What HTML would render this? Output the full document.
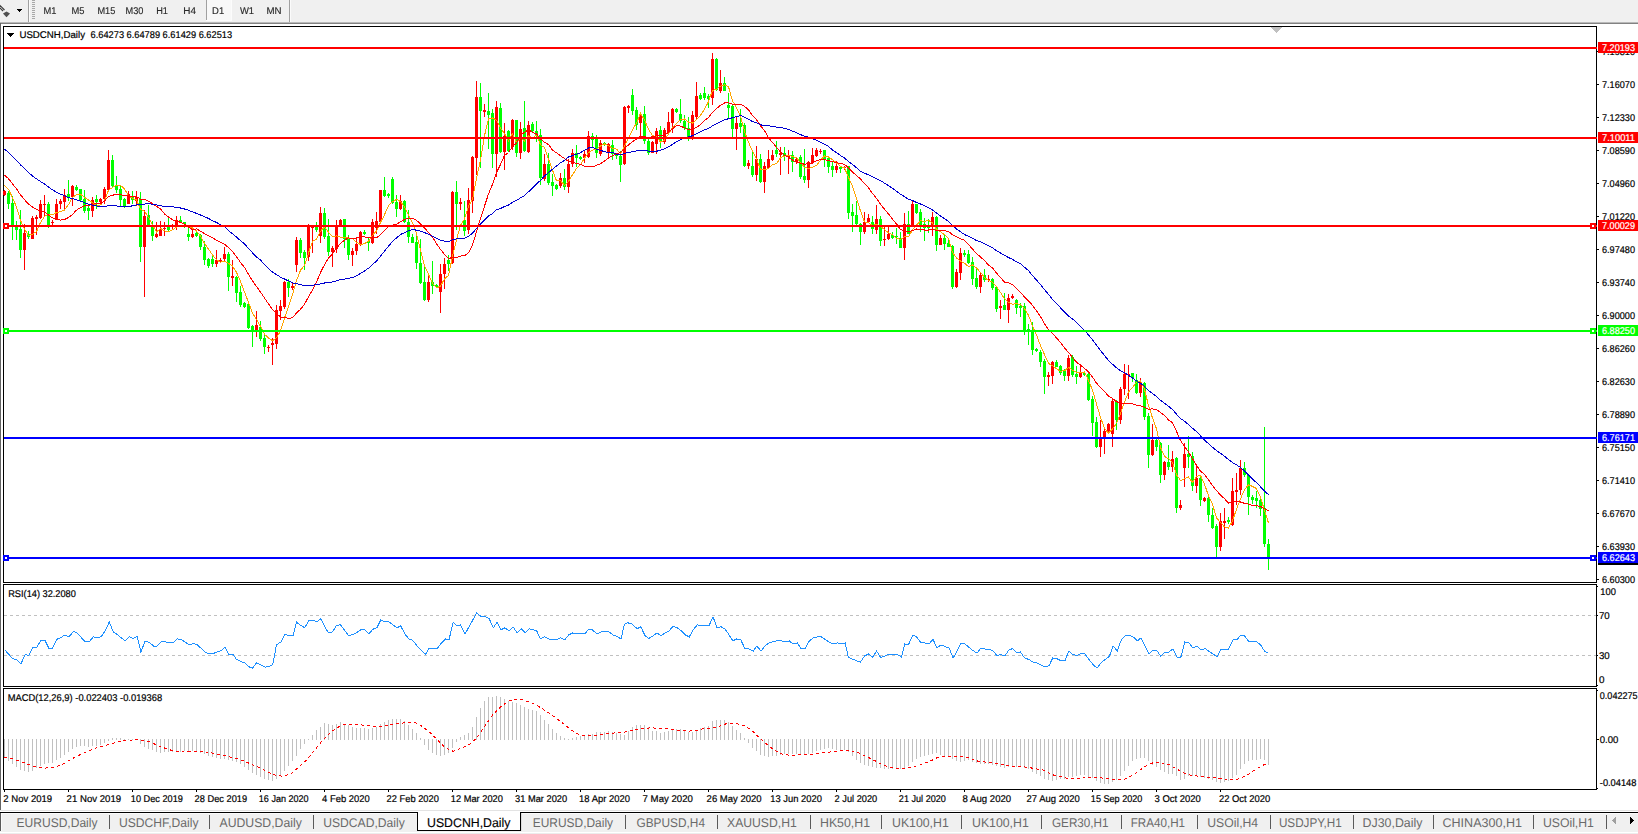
<!DOCTYPE html><html><head><meta charset="utf-8"><title>USDCNH,Daily</title>
<style>html,body{margin:0;padding:0;background:#fff;}body{width:1638px;height:834px;overflow:hidden;position:relative;}svg{position:absolute;left:0;top:0;display:block}text{font-family:"Liberation Sans",sans-serif;text-rendering:geometricPrecision;}</style></head><body>
<svg width="1638" height="834" viewBox="0 0 1638 834">
<g shape-rendering="crispEdges">
<rect x="0" y="0" width="1638" height="834" fill="#ffffff"/>
<rect x="0" y="0" width="1638" height="22" fill="#f0f0f0"/>
<rect x="0" y="22" width="1638" height="1" fill="#b9b9b9"/>
<rect x="0" y="23" width="1638" height="1" fill="#828282"/>
<rect x="0" y="23" width="1" height="787" fill="#646464"/>
<rect x="28" y="0" width="1" height="22" fill="#a0a0a0"/>
<rect x="29" y="0" width="1" height="22" fill="#fbfbfb"/>
<rect x="32" y="0" width="3" height="1" fill="#a8a8a8"/>
<rect x="32" y="2" width="3" height="1" fill="#a8a8a8"/>
<rect x="32" y="4" width="3" height="1" fill="#a8a8a8"/>
<rect x="32" y="6" width="3" height="1" fill="#a8a8a8"/>
<rect x="32" y="8" width="3" height="1" fill="#a8a8a8"/>
<rect x="32" y="10" width="3" height="1" fill="#a8a8a8"/>
<rect x="32" y="12" width="3" height="1" fill="#a8a8a8"/>
<rect x="32" y="14" width="3" height="1" fill="#a8a8a8"/>
<rect x="32" y="16" width="3" height="1" fill="#a8a8a8"/>
<rect x="32" y="18" width="3" height="1" fill="#a8a8a8"/>
<rect x="207" y="0" width="24" height="20" fill="#f8f8f8"/>
<rect x="206" y="0" width="1" height="20" fill="#a0a0a0"/>
<rect x="231" y="0" width="1" height="21" fill="#fcfcfc"/>
<rect x="206" y="20" width="26" height="1" fill="#fcfcfc"/>
<rect x="289" y="0" width="1" height="22" fill="#a0a0a0"/>
<rect x="290" y="0" width="1" height="22" fill="#fbfbfb"/>
<rect x="17" y="9" width="5" height="1" fill="#000"/>
<rect x="18" y="10" width="3" height="1" fill="#000"/>
<rect x="19" y="11" width="1" height="1" fill="#000"/>
</g><path d="M-1 4.5 L4.5 10" stroke="#3c3c3c" stroke-width="1.2" fill="none"/><path d="M-1 7 L3 11" stroke="#3c3c3c" stroke-width="1.2" fill="none"/>
<path d="M6.5 11.6 L10 13.6 L6.5 17.2 L3 13.6 Z" fill="#505050"/><g shape-rendering="crispEdges">
<rect x="3" y="26" width="1594" height="1" fill="#000"/>
<rect x="3" y="26" width="1" height="557" fill="#000"/>
<rect x="3" y="582" width="1594" height="1" fill="#000"/>
<rect x="1596" y="26" width="1" height="557" fill="#000"/>
<rect x="3" y="584" width="1594" height="1" fill="#000"/>
<rect x="3" y="584" width="1" height="103" fill="#000"/>
<rect x="3" y="686" width="1594" height="1" fill="#000"/>
<rect x="1596" y="584" width="1" height="103" fill="#000"/>
<rect x="3" y="688" width="1594" height="1" fill="#000"/>
<rect x="3" y="688" width="1" height="102" fill="#000"/>
<rect x="3" y="789" width="1594" height="1" fill="#000"/>
<rect x="1596" y="688" width="1" height="102" fill="#000"/>
<rect x="1597" y="51" width="2" height="1" fill="#000"/>
<rect x="1597" y="84" width="2" height="1" fill="#000"/>
<rect x="1597" y="117" width="2" height="1" fill="#000"/>
<rect x="1597" y="150" width="2" height="1" fill="#000"/>
<rect x="1597" y="183" width="2" height="1" fill="#000"/>
<rect x="1597" y="216" width="2" height="1" fill="#000"/>
<rect x="1597" y="249" width="2" height="1" fill="#000"/>
<rect x="1597" y="282" width="2" height="1" fill="#000"/>
<rect x="1597" y="315" width="2" height="1" fill="#000"/>
<rect x="1597" y="348" width="2" height="1" fill="#000"/>
<rect x="1597" y="381" width="2" height="1" fill="#000"/>
<rect x="1597" y="414" width="2" height="1" fill="#000"/>
<rect x="1597" y="447" width="2" height="1" fill="#000"/>
<rect x="1597" y="480" width="2" height="1" fill="#000"/>
<rect x="1597" y="513" width="2" height="1" fill="#000"/>
<rect x="1597" y="546" width="2" height="1" fill="#000"/>
<rect x="1597" y="579" width="2" height="1" fill="#000"/>
<rect x="1597" y="586" width="1" height="1" fill="#000"/>
<rect x="1597" y="615" width="1" height="1" fill="#000"/>
<rect x="1597" y="655" width="1" height="1" fill="#000"/>
<rect x="1597" y="685" width="1" height="1" fill="#000"/>
<rect x="1597" y="690" width="1" height="1" fill="#000"/>
<rect x="1597" y="739" width="2" height="1" fill="#000"/>
<rect x="1597" y="788" width="1" height="1" fill="#000"/>
<rect x="4" y="790" width="1" height="2" fill="#000"/>
<rect x="68" y="790" width="1" height="2" fill="#000"/>
<rect x="132" y="790" width="1" height="2" fill="#000"/>
<rect x="196" y="790" width="1" height="2" fill="#000"/>
<rect x="260" y="790" width="1" height="2" fill="#000"/>
<rect x="324" y="790" width="1" height="2" fill="#000"/>
<rect x="388" y="790" width="1" height="2" fill="#000"/>
<rect x="452" y="790" width="1" height="2" fill="#000"/>
<rect x="516" y="790" width="1" height="2" fill="#000"/>
<rect x="580" y="790" width="1" height="2" fill="#000"/>
<rect x="644" y="790" width="1" height="2" fill="#000"/>
<rect x="708" y="790" width="1" height="2" fill="#000"/>
<rect x="772" y="790" width="1" height="2" fill="#000"/>
<rect x="836" y="790" width="1" height="2" fill="#000"/>
<rect x="900" y="790" width="1" height="2" fill="#000"/>
<rect x="964" y="790" width="1" height="2" fill="#000"/>
<rect x="1028" y="790" width="1" height="2" fill="#000"/>
<rect x="1092" y="790" width="1" height="2" fill="#000"/>
<rect x="1156" y="790" width="1" height="2" fill="#000"/>
<rect x="1220" y="790" width="1" height="2" fill="#000"/>
<rect x="1271" y="27" width="11" height="1" fill="#c0c0c0"/>
<rect x="1272" y="28" width="9" height="1" fill="#c0c0c0"/>
<rect x="1273" y="29" width="7" height="1" fill="#c0c0c0"/>
<rect x="1274" y="30" width="5" height="1" fill="#c0c0c0"/>
<rect x="1275" y="31" width="3" height="1" fill="#c0c0c0"/>
<rect x="1276" y="32" width="1" height="1" fill="#c0c0c0"/>
<rect x="7" y="33" width="7" height="1" fill="#000"/>
<rect x="8" y="34" width="5" height="1" fill="#000"/>
<rect x="9" y="35" width="3" height="1" fill="#000"/>
<rect x="10" y="36" width="1" height="1" fill="#000"/>
<path d="M4 615.5 H1596" stroke="#c0c0c0" stroke-width="1" stroke-dasharray="3 3" fill="none"/>
<path d="M4 655.5 H1596" stroke="#c0c0c0" stroke-width="1" stroke-dasharray="3 3" fill="none"/>
<rect x="4" y="190" width="1" height="6" fill="#ff0000"/>
<rect x="3" y="191" width="3" height="4" fill="#ff0000"/>
<rect x="8" y="191" width="1" height="18" fill="#00ff00"/>
<rect x="7" y="193" width="3" height="11" fill="#00ff00"/>
<rect x="12" y="196" width="1" height="44" fill="#00ff00"/>
<rect x="11" y="203" width="3" height="23" fill="#00ff00"/>
<rect x="16" y="221" width="1" height="19" fill="#00ff00"/>
<rect x="15" y="226" width="3" height="4" fill="#00ff00"/>
<rect x="20" y="210" width="1" height="48" fill="#00ff00"/>
<rect x="19" y="229" width="3" height="21" fill="#00ff00"/>
<rect x="24" y="224" width="1" height="46" fill="#ff0000"/>
<rect x="23" y="233" width="3" height="17" fill="#ff0000"/>
<rect x="28" y="231" width="1" height="8" fill="#00ff00"/>
<rect x="27" y="234" width="3" height="3" fill="#00ff00"/>
<rect x="32" y="216" width="1" height="23" fill="#ff0000"/>
<rect x="31" y="218" width="3" height="21" fill="#ff0000"/>
<rect x="36" y="215" width="1" height="20" fill="#ff0000"/>
<rect x="35" y="217" width="3" height="2" fill="#ff0000"/>
<rect x="40" y="200" width="1" height="19" fill="#ff0000"/>
<rect x="39" y="204" width="3" height="14" fill="#ff0000"/>
<rect x="44" y="195" width="1" height="21" fill="#ff0000"/>
<rect x="43" y="204" width="3" height="1" fill="#ff0000"/>
<rect x="48" y="202" width="1" height="26" fill="#00ff00"/>
<rect x="47" y="204" width="3" height="21" fill="#00ff00"/>
<rect x="52" y="220" width="1" height="5" fill="#ff0000"/>
<rect x="51" y="222" width="3" height="1" fill="#ff0000"/>
<rect x="56" y="199" width="1" height="21" fill="#ff0000"/>
<rect x="55" y="204" width="3" height="15" fill="#ff0000"/>
<rect x="60" y="199" width="1" height="10" fill="#ff0000"/>
<rect x="59" y="201" width="3" height="3" fill="#ff0000"/>
<rect x="64" y="189" width="1" height="20" fill="#ff0000"/>
<rect x="63" y="195" width="3" height="7" fill="#ff0000"/>
<rect x="68" y="180" width="1" height="21" fill="#00ff00"/>
<rect x="67" y="194" width="3" height="4" fill="#00ff00"/>
<rect x="72" y="185" width="1" height="21" fill="#ff0000"/>
<rect x="71" y="186" width="3" height="11" fill="#ff0000"/>
<rect x="76" y="185" width="1" height="6" fill="#00ff00"/>
<rect x="75" y="187" width="3" height="3" fill="#00ff00"/>
<rect x="80" y="189" width="1" height="12" fill="#00ff00"/>
<rect x="79" y="189" width="3" height="11" fill="#00ff00"/>
<rect x="84" y="190" width="1" height="23" fill="#00ff00"/>
<rect x="83" y="199" width="3" height="12" fill="#00ff00"/>
<rect x="88" y="204" width="1" height="16" fill="#00ff00"/>
<rect x="87" y="208" width="3" height="3" fill="#00ff00"/>
<rect x="92" y="197" width="1" height="20" fill="#ff0000"/>
<rect x="91" y="200" width="3" height="11" fill="#ff0000"/>
<rect x="96" y="195" width="1" height="14" fill="#00ff00"/>
<rect x="95" y="199" width="3" height="3" fill="#00ff00"/>
<rect x="100" y="198" width="1" height="6" fill="#ff0000"/>
<rect x="99" y="199" width="3" height="3" fill="#ff0000"/>
<rect x="104" y="187" width="1" height="17" fill="#ff0000"/>
<rect x="103" y="189" width="3" height="10" fill="#ff0000"/>
<rect x="108" y="150" width="1" height="40" fill="#ff0000"/>
<rect x="107" y="160" width="3" height="30" fill="#ff0000"/>
<rect x="112" y="155" width="1" height="32" fill="#00ff00"/>
<rect x="111" y="160" width="3" height="26" fill="#00ff00"/>
<rect x="116" y="176" width="1" height="17" fill="#00ff00"/>
<rect x="115" y="185" width="3" height="5" fill="#00ff00"/>
<rect x="120" y="185" width="1" height="22" fill="#00ff00"/>
<rect x="119" y="189" width="3" height="11" fill="#00ff00"/>
<rect x="124" y="198" width="1" height="10" fill="#00ff00"/>
<rect x="123" y="199" width="3" height="7" fill="#00ff00"/>
<rect x="128" y="191" width="1" height="13" fill="#ff0000"/>
<rect x="127" y="194" width="3" height="10" fill="#ff0000"/>
<rect x="132" y="191" width="1" height="13" fill="#00ff00"/>
<rect x="131" y="197" width="3" height="3" fill="#00ff00"/>
<rect x="136" y="191" width="1" height="15" fill="#ff0000"/>
<rect x="135" y="197" width="3" height="4" fill="#ff0000"/>
<rect x="140" y="192" width="1" height="70" fill="#00ff00"/>
<rect x="139" y="199" width="3" height="48" fill="#00ff00"/>
<rect x="144" y="210" width="1" height="87" fill="#ff0000"/>
<rect x="143" y="216" width="3" height="31" fill="#ff0000"/>
<rect x="148" y="205" width="1" height="20" fill="#00ff00"/>
<rect x="147" y="215" width="3" height="10" fill="#00ff00"/>
<rect x="152" y="221" width="1" height="20" fill="#00ff00"/>
<rect x="151" y="225" width="3" height="11" fill="#00ff00"/>
<rect x="156" y="222" width="1" height="16" fill="#ff0000"/>
<rect x="155" y="234" width="3" height="3" fill="#ff0000"/>
<rect x="160" y="221" width="1" height="15" fill="#ff0000"/>
<rect x="159" y="229" width="3" height="7" fill="#ff0000"/>
<rect x="164" y="222" width="1" height="14" fill="#ff0000"/>
<rect x="163" y="228" width="3" height="1" fill="#ff0000"/>
<rect x="168" y="217" width="1" height="14" fill="#00ff00"/>
<rect x="167" y="227" width="3" height="3" fill="#00ff00"/>
<rect x="172" y="224" width="1" height="6" fill="#ff0000"/>
<rect x="171" y="226" width="3" height="1" fill="#ff0000"/>
<rect x="176" y="216" width="1" height="14" fill="#ff0000"/>
<rect x="175" y="220" width="3" height="7" fill="#ff0000"/>
<rect x="180" y="216" width="1" height="7" fill="#00ff00"/>
<rect x="179" y="220" width="3" height="2" fill="#00ff00"/>
<rect x="184" y="222" width="1" height="6" fill="#00ff00"/>
<rect x="183" y="222" width="3" height="2" fill="#00ff00"/>
<rect x="188" y="228" width="1" height="13" fill="#00ff00"/>
<rect x="187" y="234" width="3" height="3" fill="#00ff00"/>
<rect x="192" y="228" width="1" height="10" fill="#ff0000"/>
<rect x="191" y="234" width="3" height="3" fill="#ff0000"/>
<rect x="196" y="232" width="1" height="5" fill="#00ff00"/>
<rect x="195" y="233" width="3" height="3" fill="#00ff00"/>
<rect x="200" y="234" width="1" height="16" fill="#00ff00"/>
<rect x="199" y="235" width="3" height="12" fill="#00ff00"/>
<rect x="204" y="241" width="1" height="24" fill="#00ff00"/>
<rect x="203" y="247" width="3" height="13" fill="#00ff00"/>
<rect x="208" y="258" width="1" height="10" fill="#00ff00"/>
<rect x="207" y="259" width="3" height="7" fill="#00ff00"/>
<rect x="212" y="254" width="1" height="13" fill="#00ff00"/>
<rect x="211" y="259" width="3" height="5" fill="#00ff00"/>
<rect x="216" y="250" width="1" height="17" fill="#ff0000"/>
<rect x="215" y="260" width="3" height="4" fill="#ff0000"/>
<rect x="220" y="258" width="1" height="4" fill="#ff0000"/>
<rect x="219" y="260" width="3" height="1" fill="#ff0000"/>
<rect x="224" y="247" width="1" height="15" fill="#ff0000"/>
<rect x="223" y="254" width="3" height="5" fill="#ff0000"/>
<rect x="228" y="252" width="1" height="39" fill="#00ff00"/>
<rect x="227" y="254" width="3" height="23" fill="#00ff00"/>
<rect x="232" y="260" width="1" height="26" fill="#ff0000"/>
<rect x="231" y="276" width="3" height="2" fill="#ff0000"/>
<rect x="236" y="276" width="1" height="26" fill="#00ff00"/>
<rect x="235" y="277" width="3" height="16" fill="#00ff00"/>
<rect x="240" y="286" width="1" height="21" fill="#00ff00"/>
<rect x="239" y="292" width="3" height="13" fill="#00ff00"/>
<rect x="244" y="302" width="1" height="6" fill="#00ff00"/>
<rect x="243" y="303" width="3" height="4" fill="#00ff00"/>
<rect x="248" y="303" width="1" height="26" fill="#00ff00"/>
<rect x="247" y="304" width="3" height="24" fill="#00ff00"/>
<rect x="252" y="325" width="1" height="22" fill="#00ff00"/>
<rect x="251" y="326" width="3" height="4" fill="#00ff00"/>
<rect x="256" y="311" width="1" height="26" fill="#ff0000"/>
<rect x="255" y="325" width="3" height="5" fill="#ff0000"/>
<rect x="260" y="321" width="1" height="20" fill="#00ff00"/>
<rect x="259" y="327" width="3" height="12" fill="#00ff00"/>
<rect x="264" y="333" width="1" height="21" fill="#00ff00"/>
<rect x="263" y="338" width="3" height="9" fill="#00ff00"/>
<rect x="268" y="345" width="1" height="7" fill="#ff0000"/>
<rect x="267" y="347" width="3" height="1" fill="#ff0000"/>
<rect x="272" y="338" width="1" height="27" fill="#ff0000"/>
<rect x="271" y="343" width="3" height="2" fill="#ff0000"/>
<rect x="276" y="305" width="1" height="44" fill="#ff0000"/>
<rect x="275" y="310" width="3" height="34" fill="#ff0000"/>
<rect x="280" y="300" width="1" height="20" fill="#ff0000"/>
<rect x="279" y="306" width="3" height="5" fill="#ff0000"/>
<rect x="284" y="281" width="1" height="28" fill="#ff0000"/>
<rect x="283" y="282" width="3" height="25" fill="#ff0000"/>
<rect x="288" y="279" width="1" height="18" fill="#00ff00"/>
<rect x="287" y="282" width="3" height="6" fill="#00ff00"/>
<rect x="292" y="283" width="1" height="7" fill="#ff0000"/>
<rect x="291" y="286" width="3" height="2" fill="#ff0000"/>
<rect x="296" y="237" width="1" height="35" fill="#ff0000"/>
<rect x="295" y="240" width="3" height="25" fill="#ff0000"/>
<rect x="300" y="238" width="1" height="20" fill="#00ff00"/>
<rect x="299" y="240" width="3" height="13" fill="#00ff00"/>
<rect x="304" y="250" width="1" height="20" fill="#00ff00"/>
<rect x="303" y="252" width="3" height="6" fill="#00ff00"/>
<rect x="308" y="224" width="1" height="37" fill="#ff0000"/>
<rect x="307" y="226" width="3" height="31" fill="#ff0000"/>
<rect x="312" y="225" width="1" height="28" fill="#ff0000"/>
<rect x="311" y="226" width="3" height="2" fill="#ff0000"/>
<rect x="316" y="222" width="1" height="10" fill="#00ff00"/>
<rect x="315" y="227" width="3" height="3" fill="#00ff00"/>
<rect x="320" y="207" width="1" height="36" fill="#ff0000"/>
<rect x="319" y="213" width="3" height="23" fill="#ff0000"/>
<rect x="324" y="208" width="1" height="31" fill="#00ff00"/>
<rect x="323" y="213" width="3" height="24" fill="#00ff00"/>
<rect x="328" y="219" width="1" height="37" fill="#00ff00"/>
<rect x="327" y="236" width="3" height="16" fill="#00ff00"/>
<rect x="332" y="246" width="1" height="21" fill="#ff0000"/>
<rect x="331" y="248" width="3" height="4" fill="#ff0000"/>
<rect x="336" y="220" width="1" height="33" fill="#ff0000"/>
<rect x="335" y="226" width="3" height="23" fill="#ff0000"/>
<rect x="340" y="219" width="1" height="8" fill="#ff0000"/>
<rect x="339" y="220" width="3" height="6" fill="#ff0000"/>
<rect x="344" y="219" width="1" height="29" fill="#00ff00"/>
<rect x="343" y="219" width="3" height="20" fill="#00ff00"/>
<rect x="348" y="235" width="1" height="25" fill="#00ff00"/>
<rect x="347" y="238" width="3" height="17" fill="#00ff00"/>
<rect x="352" y="248" width="1" height="18" fill="#ff0000"/>
<rect x="351" y="251" width="3" height="4" fill="#ff0000"/>
<rect x="356" y="237" width="1" height="18" fill="#ff0000"/>
<rect x="355" y="244" width="3" height="7" fill="#ff0000"/>
<rect x="360" y="231" width="1" height="15" fill="#ff0000"/>
<rect x="359" y="232" width="3" height="12" fill="#ff0000"/>
<rect x="364" y="230" width="1" height="5" fill="#00ff00"/>
<rect x="363" y="232" width="3" height="2" fill="#00ff00"/>
<rect x="368" y="238" width="1" height="13" fill="#00ff00"/>
<rect x="367" y="241" width="3" height="2" fill="#00ff00"/>
<rect x="372" y="219" width="1" height="25" fill="#ff0000"/>
<rect x="371" y="222" width="3" height="21" fill="#ff0000"/>
<rect x="376" y="212" width="1" height="22" fill="#ff0000"/>
<rect x="375" y="221" width="3" height="7" fill="#ff0000"/>
<rect x="380" y="190" width="1" height="33" fill="#ff0000"/>
<rect x="379" y="190" width="3" height="32" fill="#ff0000"/>
<rect x="384" y="177" width="1" height="20" fill="#00ff00"/>
<rect x="383" y="190" width="3" height="6" fill="#00ff00"/>
<rect x="388" y="193" width="1" height="5" fill="#00ff00"/>
<rect x="387" y="194" width="3" height="2" fill="#00ff00"/>
<rect x="392" y="177" width="1" height="27" fill="#00ff00"/>
<rect x="391" y="179" width="3" height="24" fill="#00ff00"/>
<rect x="396" y="195" width="1" height="22" fill="#00ff00"/>
<rect x="395" y="202" width="3" height="7" fill="#00ff00"/>
<rect x="400" y="195" width="1" height="15" fill="#ff0000"/>
<rect x="399" y="201" width="3" height="8" fill="#ff0000"/>
<rect x="404" y="200" width="1" height="23" fill="#00ff00"/>
<rect x="403" y="201" width="3" height="21" fill="#00ff00"/>
<rect x="408" y="210" width="1" height="33" fill="#00ff00"/>
<rect x="407" y="222" width="3" height="15" fill="#00ff00"/>
<rect x="412" y="234" width="1" height="9" fill="#00ff00"/>
<rect x="411" y="237" width="3" height="6" fill="#00ff00"/>
<rect x="416" y="236" width="1" height="33" fill="#00ff00"/>
<rect x="415" y="242" width="3" height="21" fill="#00ff00"/>
<rect x="420" y="239" width="1" height="45" fill="#00ff00"/>
<rect x="419" y="263" width="3" height="20" fill="#00ff00"/>
<rect x="424" y="265" width="1" height="36" fill="#00ff00"/>
<rect x="423" y="282" width="3" height="18" fill="#00ff00"/>
<rect x="428" y="275" width="1" height="27" fill="#ff0000"/>
<rect x="427" y="282" width="3" height="18" fill="#ff0000"/>
<rect x="432" y="261" width="1" height="33" fill="#00ff00"/>
<rect x="431" y="282" width="3" height="4" fill="#00ff00"/>
<rect x="436" y="284" width="1" height="4" fill="#00ff00"/>
<rect x="435" y="285" width="3" height="2" fill="#00ff00"/>
<rect x="440" y="264" width="1" height="49" fill="#ff0000"/>
<rect x="439" y="274" width="3" height="18" fill="#ff0000"/>
<rect x="444" y="258" width="1" height="31" fill="#ff0000"/>
<rect x="443" y="264" width="3" height="10" fill="#ff0000"/>
<rect x="448" y="255" width="1" height="16" fill="#00ff00"/>
<rect x="447" y="260" width="3" height="4" fill="#00ff00"/>
<rect x="452" y="191" width="1" height="73" fill="#ff0000"/>
<rect x="451" y="192" width="3" height="71" fill="#ff0000"/>
<rect x="456" y="181" width="1" height="49" fill="#00ff00"/>
<rect x="455" y="192" width="3" height="12" fill="#00ff00"/>
<rect x="460" y="198" width="1" height="12" fill="#ff0000"/>
<rect x="459" y="202" width="3" height="2" fill="#ff0000"/>
<rect x="464" y="201" width="1" height="35" fill="#00ff00"/>
<rect x="463" y="220" width="3" height="11" fill="#00ff00"/>
<rect x="468" y="188" width="1" height="46" fill="#ff0000"/>
<rect x="467" y="200" width="3" height="30" fill="#ff0000"/>
<rect x="472" y="156" width="1" height="57" fill="#ff0000"/>
<rect x="471" y="157" width="3" height="44" fill="#ff0000"/>
<rect x="476" y="81" width="1" height="94" fill="#ff0000"/>
<rect x="475" y="97" width="3" height="61" fill="#ff0000"/>
<rect x="480" y="83" width="1" height="85" fill="#00ff00"/>
<rect x="479" y="97" width="3" height="14" fill="#00ff00"/>
<rect x="484" y="104" width="1" height="13" fill="#ff0000"/>
<rect x="483" y="110" width="3" height="2" fill="#ff0000"/>
<rect x="488" y="93" width="1" height="56" fill="#00ff00"/>
<rect x="487" y="111" width="3" height="4" fill="#00ff00"/>
<rect x="492" y="109" width="1" height="59" fill="#00ff00"/>
<rect x="491" y="113" width="3" height="41" fill="#00ff00"/>
<rect x="496" y="101" width="1" height="76" fill="#ff0000"/>
<rect x="495" y="107" width="3" height="47" fill="#ff0000"/>
<rect x="500" y="103" width="1" height="50" fill="#00ff00"/>
<rect x="499" y="108" width="3" height="44" fill="#00ff00"/>
<rect x="504" y="123" width="1" height="47" fill="#ff0000"/>
<rect x="503" y="136" width="3" height="16" fill="#ff0000"/>
<rect x="508" y="130" width="1" height="22" fill="#00ff00"/>
<rect x="507" y="131" width="3" height="20" fill="#00ff00"/>
<rect x="512" y="119" width="1" height="31" fill="#ff0000"/>
<rect x="511" y="120" width="3" height="27" fill="#ff0000"/>
<rect x="516" y="120" width="1" height="37" fill="#00ff00"/>
<rect x="515" y="120" width="3" height="33" fill="#00ff00"/>
<rect x="520" y="122" width="1" height="37" fill="#ff0000"/>
<rect x="519" y="129" width="3" height="24" fill="#ff0000"/>
<rect x="524" y="101" width="1" height="51" fill="#00ff00"/>
<rect x="523" y="128" width="3" height="23" fill="#00ff00"/>
<rect x="528" y="121" width="1" height="32" fill="#ff0000"/>
<rect x="527" y="125" width="3" height="27" fill="#ff0000"/>
<rect x="532" y="122" width="1" height="10" fill="#00ff00"/>
<rect x="531" y="124" width="3" height="7" fill="#00ff00"/>
<rect x="536" y="121" width="1" height="21" fill="#00ff00"/>
<rect x="535" y="131" width="3" height="5" fill="#00ff00"/>
<rect x="540" y="129" width="1" height="56" fill="#00ff00"/>
<rect x="539" y="135" width="3" height="43" fill="#00ff00"/>
<rect x="544" y="154" width="1" height="27" fill="#ff0000"/>
<rect x="543" y="164" width="3" height="15" fill="#ff0000"/>
<rect x="548" y="153" width="1" height="32" fill="#00ff00"/>
<rect x="547" y="164" width="3" height="19" fill="#00ff00"/>
<rect x="552" y="174" width="1" height="22" fill="#00ff00"/>
<rect x="551" y="182" width="3" height="4" fill="#00ff00"/>
<rect x="556" y="184" width="1" height="6" fill="#00ff00"/>
<rect x="555" y="185" width="3" height="4" fill="#00ff00"/>
<rect x="560" y="173" width="1" height="15" fill="#ff0000"/>
<rect x="559" y="178" width="3" height="8" fill="#ff0000"/>
<rect x="564" y="169" width="1" height="21" fill="#00ff00"/>
<rect x="563" y="178" width="3" height="9" fill="#00ff00"/>
<rect x="568" y="159" width="1" height="34" fill="#ff0000"/>
<rect x="567" y="164" width="3" height="23" fill="#ff0000"/>
<rect x="572" y="149" width="1" height="18" fill="#ff0000"/>
<rect x="571" y="153" width="3" height="11" fill="#ff0000"/>
<rect x="576" y="145" width="1" height="22" fill="#00ff00"/>
<rect x="575" y="153" width="3" height="5" fill="#00ff00"/>
<rect x="580" y="156" width="1" height="4" fill="#00ff00"/>
<rect x="579" y="157" width="3" height="2" fill="#00ff00"/>
<rect x="584" y="150" width="1" height="13" fill="#ff0000"/>
<rect x="583" y="154" width="3" height="4" fill="#ff0000"/>
<rect x="588" y="131" width="1" height="27" fill="#ff0000"/>
<rect x="587" y="136" width="3" height="21" fill="#ff0000"/>
<rect x="592" y="133" width="1" height="14" fill="#00ff00"/>
<rect x="591" y="136" width="3" height="4" fill="#00ff00"/>
<rect x="596" y="135" width="1" height="23" fill="#00ff00"/>
<rect x="595" y="139" width="3" height="14" fill="#00ff00"/>
<rect x="600" y="140" width="1" height="16" fill="#ff0000"/>
<rect x="599" y="143" width="3" height="11" fill="#ff0000"/>
<rect x="604" y="142" width="1" height="4" fill="#00ff00"/>
<rect x="603" y="143" width="3" height="2" fill="#00ff00"/>
<rect x="608" y="143" width="1" height="16" fill="#ff0000"/>
<rect x="607" y="144" width="3" height="9" fill="#ff0000"/>
<rect x="612" y="140" width="1" height="20" fill="#00ff00"/>
<rect x="611" y="145" width="3" height="9" fill="#00ff00"/>
<rect x="616" y="153" width="1" height="6" fill="#00ff00"/>
<rect x="615" y="153" width="3" height="3" fill="#00ff00"/>
<rect x="620" y="151" width="1" height="31" fill="#00ff00"/>
<rect x="619" y="156" width="3" height="9" fill="#00ff00"/>
<rect x="624" y="106" width="1" height="59" fill="#ff0000"/>
<rect x="623" y="107" width="3" height="57" fill="#ff0000"/>
<rect x="628" y="105" width="1" height="8" fill="#ff0000"/>
<rect x="627" y="106" width="3" height="2" fill="#ff0000"/>
<rect x="632" y="89" width="1" height="26" fill="#00ff00"/>
<rect x="631" y="95" width="3" height="16" fill="#00ff00"/>
<rect x="636" y="107" width="1" height="23" fill="#00ff00"/>
<rect x="635" y="110" width="3" height="15" fill="#00ff00"/>
<rect x="640" y="112" width="1" height="25" fill="#ff0000"/>
<rect x="639" y="115" width="3" height="8" fill="#ff0000"/>
<rect x="644" y="106" width="1" height="38" fill="#00ff00"/>
<rect x="643" y="114" width="3" height="27" fill="#00ff00"/>
<rect x="648" y="138" width="1" height="17" fill="#00ff00"/>
<rect x="647" y="141" width="3" height="12" fill="#00ff00"/>
<rect x="652" y="141" width="1" height="12" fill="#ff0000"/>
<rect x="651" y="142" width="3" height="11" fill="#ff0000"/>
<rect x="656" y="128" width="1" height="26" fill="#ff0000"/>
<rect x="655" y="131" width="3" height="13" fill="#ff0000"/>
<rect x="660" y="126" width="1" height="22" fill="#00ff00"/>
<rect x="659" y="130" width="3" height="12" fill="#00ff00"/>
<rect x="664" y="128" width="1" height="16" fill="#ff0000"/>
<rect x="663" y="130" width="3" height="12" fill="#ff0000"/>
<rect x="668" y="112" width="1" height="22" fill="#ff0000"/>
<rect x="667" y="122" width="3" height="10" fill="#ff0000"/>
<rect x="672" y="108" width="1" height="25" fill="#ff0000"/>
<rect x="671" y="109" width="3" height="14" fill="#ff0000"/>
<rect x="676" y="108" width="1" height="5" fill="#00ff00"/>
<rect x="675" y="109" width="3" height="3" fill="#00ff00"/>
<rect x="680" y="99" width="1" height="24" fill="#00ff00"/>
<rect x="679" y="114" width="3" height="7" fill="#00ff00"/>
<rect x="684" y="115" width="1" height="15" fill="#00ff00"/>
<rect x="683" y="121" width="3" height="7" fill="#00ff00"/>
<rect x="688" y="117" width="1" height="24" fill="#00ff00"/>
<rect x="687" y="128" width="3" height="9" fill="#00ff00"/>
<rect x="692" y="111" width="1" height="29" fill="#ff0000"/>
<rect x="691" y="115" width="3" height="22" fill="#ff0000"/>
<rect x="696" y="82" width="1" height="37" fill="#ff0000"/>
<rect x="695" y="96" width="3" height="21" fill="#ff0000"/>
<rect x="700" y="93" width="1" height="7" fill="#00ff00"/>
<rect x="699" y="95" width="3" height="4" fill="#00ff00"/>
<rect x="704" y="87" width="1" height="13" fill="#00ff00"/>
<rect x="703" y="93" width="3" height="5" fill="#00ff00"/>
<rect x="708" y="94" width="1" height="14" fill="#00ff00"/>
<rect x="707" y="96" width="3" height="3" fill="#00ff00"/>
<rect x="712" y="53" width="1" height="52" fill="#ff0000"/>
<rect x="711" y="59" width="3" height="39" fill="#ff0000"/>
<rect x="716" y="58" width="1" height="33" fill="#00ff00"/>
<rect x="715" y="59" width="3" height="31" fill="#00ff00"/>
<rect x="720" y="70" width="1" height="23" fill="#ff0000"/>
<rect x="719" y="83" width="3" height="8" fill="#ff0000"/>
<rect x="724" y="77" width="1" height="14" fill="#00ff00"/>
<rect x="723" y="83" width="3" height="8" fill="#00ff00"/>
<rect x="728" y="93" width="1" height="25" fill="#00ff00"/>
<rect x="727" y="105" width="3" height="3" fill="#00ff00"/>
<rect x="732" y="105" width="1" height="32" fill="#00ff00"/>
<rect x="731" y="106" width="3" height="23" fill="#00ff00"/>
<rect x="736" y="117" width="1" height="33" fill="#ff0000"/>
<rect x="735" y="123" width="3" height="6" fill="#ff0000"/>
<rect x="740" y="109" width="1" height="24" fill="#00ff00"/>
<rect x="739" y="123" width="3" height="4" fill="#00ff00"/>
<rect x="744" y="123" width="1" height="44" fill="#00ff00"/>
<rect x="743" y="125" width="3" height="41" fill="#00ff00"/>
<rect x="748" y="160" width="1" height="9" fill="#ff0000"/>
<rect x="747" y="163" width="3" height="3" fill="#ff0000"/>
<rect x="752" y="151" width="1" height="26" fill="#00ff00"/>
<rect x="751" y="166" width="3" height="9" fill="#00ff00"/>
<rect x="756" y="146" width="1" height="35" fill="#ff0000"/>
<rect x="755" y="159" width="3" height="16" fill="#ff0000"/>
<rect x="760" y="154" width="1" height="29" fill="#00ff00"/>
<rect x="759" y="159" width="3" height="23" fill="#00ff00"/>
<rect x="764" y="162" width="1" height="31" fill="#ff0000"/>
<rect x="763" y="166" width="3" height="16" fill="#ff0000"/>
<rect x="768" y="150" width="1" height="19" fill="#ff0000"/>
<rect x="767" y="159" width="3" height="9" fill="#ff0000"/>
<rect x="772" y="150" width="1" height="11" fill="#ff0000"/>
<rect x="771" y="155" width="3" height="5" fill="#ff0000"/>
<rect x="776" y="141" width="1" height="16" fill="#00ff00"/>
<rect x="775" y="150" width="3" height="4" fill="#00ff00"/>
<rect x="780" y="147" width="1" height="28" fill="#ff0000"/>
<rect x="779" y="153" width="3" height="2" fill="#ff0000"/>
<rect x="784" y="147" width="1" height="14" fill="#00ff00"/>
<rect x="783" y="153" width="3" height="3" fill="#00ff00"/>
<rect x="788" y="150" width="1" height="24" fill="#ff0000"/>
<rect x="787" y="155" width="3" height="2" fill="#ff0000"/>
<rect x="792" y="151" width="1" height="21" fill="#00ff00"/>
<rect x="791" y="155" width="3" height="7" fill="#00ff00"/>
<rect x="796" y="157" width="1" height="7" fill="#ff0000"/>
<rect x="795" y="159" width="3" height="3" fill="#ff0000"/>
<rect x="800" y="155" width="1" height="24" fill="#00ff00"/>
<rect x="799" y="157" width="3" height="20" fill="#00ff00"/>
<rect x="804" y="149" width="1" height="34" fill="#00ff00"/>
<rect x="803" y="176" width="3" height="4" fill="#00ff00"/>
<rect x="808" y="161" width="1" height="27" fill="#ff0000"/>
<rect x="807" y="162" width="3" height="18" fill="#ff0000"/>
<rect x="812" y="148" width="1" height="16" fill="#ff0000"/>
<rect x="811" y="155" width="3" height="8" fill="#ff0000"/>
<rect x="816" y="148" width="1" height="9" fill="#ff0000"/>
<rect x="815" y="150" width="3" height="6" fill="#ff0000"/>
<rect x="820" y="149" width="1" height="5" fill="#ff0000"/>
<rect x="819" y="151" width="3" height="1" fill="#ff0000"/>
<rect x="824" y="150" width="1" height="17" fill="#00ff00"/>
<rect x="823" y="150" width="3" height="9" fill="#00ff00"/>
<rect x="828" y="157" width="1" height="16" fill="#00ff00"/>
<rect x="827" y="158" width="3" height="9" fill="#00ff00"/>
<rect x="832" y="161" width="1" height="16" fill="#00ff00"/>
<rect x="831" y="166" width="3" height="4" fill="#00ff00"/>
<rect x="836" y="161" width="1" height="12" fill="#ff0000"/>
<rect x="835" y="166" width="3" height="4" fill="#ff0000"/>
<rect x="840" y="166" width="1" height="7" fill="#00ff00"/>
<rect x="839" y="167" width="3" height="2" fill="#00ff00"/>
<rect x="844" y="166" width="1" height="4" fill="#ff0000"/>
<rect x="843" y="167" width="3" height="1" fill="#ff0000"/>
<rect x="848" y="166" width="1" height="53" fill="#00ff00"/>
<rect x="847" y="166" width="3" height="47" fill="#00ff00"/>
<rect x="852" y="204" width="1" height="28" fill="#00ff00"/>
<rect x="851" y="212" width="3" height="4" fill="#00ff00"/>
<rect x="856" y="201" width="1" height="24" fill="#00ff00"/>
<rect x="855" y="215" width="3" height="9" fill="#00ff00"/>
<rect x="860" y="223" width="1" height="22" fill="#00ff00"/>
<rect x="859" y="224" width="3" height="8" fill="#00ff00"/>
<rect x="864" y="212" width="1" height="22" fill="#ff0000"/>
<rect x="863" y="222" width="3" height="10" fill="#ff0000"/>
<rect x="868" y="214" width="1" height="9" fill="#ff0000"/>
<rect x="867" y="218" width="3" height="4" fill="#ff0000"/>
<rect x="872" y="216" width="1" height="18" fill="#00ff00"/>
<rect x="871" y="222" width="3" height="7" fill="#00ff00"/>
<rect x="876" y="205" width="1" height="29" fill="#ff0000"/>
<rect x="875" y="219" width="3" height="11" fill="#ff0000"/>
<rect x="880" y="216" width="1" height="30" fill="#00ff00"/>
<rect x="879" y="219" width="3" height="22" fill="#00ff00"/>
<rect x="884" y="227" width="1" height="19" fill="#ff0000"/>
<rect x="883" y="239" width="3" height="1" fill="#ff0000"/>
<rect x="888" y="227" width="1" height="13" fill="#ff0000"/>
<rect x="887" y="234" width="3" height="5" fill="#ff0000"/>
<rect x="892" y="232" width="1" height="7" fill="#00ff00"/>
<rect x="891" y="235" width="3" height="3" fill="#00ff00"/>
<rect x="896" y="228" width="1" height="16" fill="#00ff00"/>
<rect x="895" y="236" width="3" height="1" fill="#00ff00"/>
<rect x="900" y="232" width="1" height="16" fill="#00ff00"/>
<rect x="899" y="238" width="3" height="10" fill="#00ff00"/>
<rect x="904" y="213" width="1" height="47" fill="#ff0000"/>
<rect x="903" y="224" width="3" height="24" fill="#ff0000"/>
<rect x="908" y="211" width="1" height="23" fill="#00ff00"/>
<rect x="907" y="224" width="3" height="10" fill="#00ff00"/>
<rect x="912" y="200" width="1" height="27" fill="#ff0000"/>
<rect x="911" y="204" width="3" height="21" fill="#ff0000"/>
<rect x="916" y="204" width="1" height="10" fill="#00ff00"/>
<rect x="915" y="204" width="3" height="9" fill="#00ff00"/>
<rect x="920" y="209" width="1" height="23" fill="#00ff00"/>
<rect x="919" y="212" width="3" height="13" fill="#00ff00"/>
<rect x="924" y="218" width="1" height="23" fill="#00ff00"/>
<rect x="923" y="224" width="3" height="4" fill="#00ff00"/>
<rect x="928" y="219" width="1" height="14" fill="#00ff00"/>
<rect x="927" y="225" width="3" height="3" fill="#00ff00"/>
<rect x="932" y="212" width="1" height="24" fill="#ff0000"/>
<rect x="931" y="217" width="3" height="10" fill="#ff0000"/>
<rect x="936" y="216" width="1" height="35" fill="#00ff00"/>
<rect x="935" y="217" width="3" height="28" fill="#00ff00"/>
<rect x="940" y="235" width="1" height="10" fill="#ff0000"/>
<rect x="939" y="238" width="3" height="7" fill="#ff0000"/>
<rect x="944" y="235" width="1" height="15" fill="#00ff00"/>
<rect x="943" y="238" width="3" height="6" fill="#00ff00"/>
<rect x="948" y="238" width="1" height="9" fill="#00ff00"/>
<rect x="947" y="243" width="3" height="4" fill="#00ff00"/>
<rect x="952" y="245" width="1" height="44" fill="#00ff00"/>
<rect x="951" y="246" width="3" height="41" fill="#00ff00"/>
<rect x="956" y="269" width="1" height="19" fill="#ff0000"/>
<rect x="955" y="272" width="3" height="15" fill="#ff0000"/>
<rect x="960" y="248" width="1" height="32" fill="#ff0000"/>
<rect x="959" y="253" width="3" height="20" fill="#ff0000"/>
<rect x="964" y="250" width="1" height="7" fill="#00ff00"/>
<rect x="963" y="253" width="3" height="2" fill="#00ff00"/>
<rect x="968" y="250" width="1" height="14" fill="#00ff00"/>
<rect x="967" y="254" width="3" height="9" fill="#00ff00"/>
<rect x="972" y="257" width="1" height="28" fill="#00ff00"/>
<rect x="971" y="262" width="3" height="17" fill="#00ff00"/>
<rect x="976" y="268" width="1" height="21" fill="#00ff00"/>
<rect x="975" y="278" width="3" height="9" fill="#00ff00"/>
<rect x="980" y="273" width="1" height="20" fill="#ff0000"/>
<rect x="979" y="275" width="3" height="12" fill="#ff0000"/>
<rect x="984" y="269" width="1" height="13" fill="#00ff00"/>
<rect x="983" y="275" width="3" height="5" fill="#00ff00"/>
<rect x="988" y="275" width="1" height="7" fill="#ff0000"/>
<rect x="987" y="279" width="3" height="1" fill="#ff0000"/>
<rect x="992" y="278" width="1" height="12" fill="#00ff00"/>
<rect x="991" y="279" width="3" height="9" fill="#00ff00"/>
<rect x="996" y="286" width="1" height="26" fill="#00ff00"/>
<rect x="995" y="287" width="3" height="22" fill="#00ff00"/>
<rect x="1000" y="300" width="1" height="19" fill="#ff0000"/>
<rect x="999" y="306" width="3" height="2" fill="#ff0000"/>
<rect x="1004" y="293" width="1" height="17" fill="#00ff00"/>
<rect x="1003" y="305" width="3" height="5" fill="#00ff00"/>
<rect x="1008" y="294" width="1" height="29" fill="#ff0000"/>
<rect x="1007" y="298" width="3" height="12" fill="#ff0000"/>
<rect x="1012" y="294" width="1" height="5" fill="#ff0000"/>
<rect x="1011" y="296" width="3" height="2" fill="#ff0000"/>
<rect x="1016" y="299" width="1" height="15" fill="#00ff00"/>
<rect x="1015" y="300" width="3" height="8" fill="#00ff00"/>
<rect x="1020" y="303" width="1" height="14" fill="#00ff00"/>
<rect x="1019" y="306" width="3" height="2" fill="#00ff00"/>
<rect x="1024" y="303" width="1" height="32" fill="#00ff00"/>
<rect x="1023" y="306" width="3" height="25" fill="#00ff00"/>
<rect x="1028" y="324" width="1" height="21" fill="#00ff00"/>
<rect x="1027" y="329" width="3" height="2" fill="#00ff00"/>
<rect x="1032" y="322" width="1" height="33" fill="#00ff00"/>
<rect x="1031" y="331" width="3" height="19" fill="#00ff00"/>
<rect x="1036" y="348" width="1" height="4" fill="#00ff00"/>
<rect x="1035" y="349" width="3" height="2" fill="#00ff00"/>
<rect x="1040" y="350" width="1" height="17" fill="#00ff00"/>
<rect x="1039" y="352" width="3" height="10" fill="#00ff00"/>
<rect x="1044" y="359" width="1" height="35" fill="#00ff00"/>
<rect x="1043" y="361" width="3" height="16" fill="#00ff00"/>
<rect x="1048" y="372" width="1" height="14" fill="#ff0000"/>
<rect x="1047" y="375" width="3" height="2" fill="#ff0000"/>
<rect x="1052" y="361" width="1" height="23" fill="#ff0000"/>
<rect x="1051" y="362" width="3" height="14" fill="#ff0000"/>
<rect x="1056" y="360" width="1" height="7" fill="#00ff00"/>
<rect x="1055" y="362" width="3" height="5" fill="#00ff00"/>
<rect x="1060" y="365" width="1" height="10" fill="#00ff00"/>
<rect x="1059" y="366" width="3" height="7" fill="#00ff00"/>
<rect x="1064" y="369" width="1" height="12" fill="#00ff00"/>
<rect x="1063" y="370" width="3" height="6" fill="#00ff00"/>
<rect x="1068" y="355" width="1" height="26" fill="#ff0000"/>
<rect x="1067" y="358" width="3" height="18" fill="#ff0000"/>
<rect x="1072" y="355" width="1" height="22" fill="#00ff00"/>
<rect x="1071" y="357" width="3" height="18" fill="#00ff00"/>
<rect x="1076" y="366" width="1" height="18" fill="#00ff00"/>
<rect x="1075" y="374" width="3" height="3" fill="#00ff00"/>
<rect x="1080" y="364" width="1" height="14" fill="#ff0000"/>
<rect x="1079" y="373" width="3" height="4" fill="#ff0000"/>
<rect x="1084" y="372" width="1" height="4" fill="#00ff00"/>
<rect x="1083" y="373" width="3" height="2" fill="#00ff00"/>
<rect x="1088" y="373" width="1" height="28" fill="#00ff00"/>
<rect x="1087" y="374" width="3" height="26" fill="#00ff00"/>
<rect x="1092" y="396" width="1" height="40" fill="#00ff00"/>
<rect x="1091" y="399" width="3" height="24" fill="#00ff00"/>
<rect x="1096" y="417" width="1" height="31" fill="#00ff00"/>
<rect x="1095" y="422" width="3" height="25" fill="#00ff00"/>
<rect x="1100" y="420" width="1" height="37" fill="#ff0000"/>
<rect x="1099" y="438" width="3" height="9" fill="#ff0000"/>
<rect x="1104" y="427" width="1" height="27" fill="#ff0000"/>
<rect x="1103" y="431" width="3" height="7" fill="#ff0000"/>
<rect x="1108" y="423" width="1" height="10" fill="#ff0000"/>
<rect x="1107" y="424" width="3" height="7" fill="#ff0000"/>
<rect x="1112" y="398" width="1" height="49" fill="#ff0000"/>
<rect x="1111" y="401" width="3" height="33" fill="#ff0000"/>
<rect x="1116" y="400" width="1" height="30" fill="#00ff00"/>
<rect x="1115" y="401" width="3" height="19" fill="#00ff00"/>
<rect x="1120" y="387" width="1" height="37" fill="#ff0000"/>
<rect x="1119" y="389" width="3" height="31" fill="#ff0000"/>
<rect x="1124" y="364" width="1" height="31" fill="#ff0000"/>
<rect x="1123" y="374" width="3" height="15" fill="#ff0000"/>
<rect x="1128" y="365" width="1" height="34" fill="#ff0000"/>
<rect x="1127" y="374" width="3" height="1" fill="#ff0000"/>
<rect x="1132" y="373" width="1" height="9" fill="#00ff00"/>
<rect x="1131" y="373" width="3" height="5" fill="#00ff00"/>
<rect x="1136" y="374" width="1" height="20" fill="#00ff00"/>
<rect x="1135" y="380" width="3" height="13" fill="#00ff00"/>
<rect x="1140" y="378" width="1" height="19" fill="#ff0000"/>
<rect x="1139" y="383" width="3" height="10" fill="#ff0000"/>
<rect x="1144" y="382" width="1" height="38" fill="#00ff00"/>
<rect x="1143" y="383" width="3" height="34" fill="#00ff00"/>
<rect x="1148" y="413" width="1" height="55" fill="#00ff00"/>
<rect x="1147" y="416" width="3" height="39" fill="#00ff00"/>
<rect x="1152" y="424" width="1" height="32" fill="#ff0000"/>
<rect x="1151" y="440" width="3" height="15" fill="#ff0000"/>
<rect x="1156" y="439" width="1" height="12" fill="#00ff00"/>
<rect x="1155" y="440" width="3" height="7" fill="#00ff00"/>
<rect x="1160" y="442" width="1" height="41" fill="#00ff00"/>
<rect x="1159" y="443" width="3" height="32" fill="#00ff00"/>
<rect x="1164" y="461" width="1" height="19" fill="#ff0000"/>
<rect x="1163" y="462" width="3" height="13" fill="#ff0000"/>
<rect x="1168" y="445" width="1" height="25" fill="#00ff00"/>
<rect x="1167" y="462" width="3" height="5" fill="#00ff00"/>
<rect x="1172" y="451" width="1" height="21" fill="#ff0000"/>
<rect x="1171" y="459" width="3" height="8" fill="#ff0000"/>
<rect x="1176" y="457" width="1" height="56" fill="#00ff00"/>
<rect x="1175" y="458" width="3" height="50" fill="#00ff00"/>
<rect x="1180" y="500" width="1" height="10" fill="#ff0000"/>
<rect x="1179" y="505" width="3" height="3" fill="#ff0000"/>
<rect x="1184" y="443" width="1" height="44" fill="#ff0000"/>
<rect x="1183" y="454" width="3" height="14" fill="#ff0000"/>
<rect x="1188" y="436" width="1" height="32" fill="#00ff00"/>
<rect x="1187" y="454" width="3" height="3" fill="#00ff00"/>
<rect x="1192" y="452" width="1" height="39" fill="#00ff00"/>
<rect x="1191" y="456" width="3" height="30" fill="#00ff00"/>
<rect x="1196" y="464" width="1" height="29" fill="#ff0000"/>
<rect x="1195" y="478" width="3" height="8" fill="#ff0000"/>
<rect x="1200" y="476" width="1" height="30" fill="#00ff00"/>
<rect x="1199" y="478" width="3" height="22" fill="#00ff00"/>
<rect x="1204" y="497" width="1" height="5" fill="#ff0000"/>
<rect x="1203" y="498" width="3" height="3" fill="#ff0000"/>
<rect x="1208" y="497" width="1" height="25" fill="#00ff00"/>
<rect x="1207" y="498" width="3" height="17" fill="#00ff00"/>
<rect x="1212" y="508" width="1" height="21" fill="#00ff00"/>
<rect x="1211" y="515" width="3" height="13" fill="#00ff00"/>
<rect x="1216" y="524" width="1" height="33" fill="#00ff00"/>
<rect x="1215" y="526" width="3" height="21" fill="#00ff00"/>
<rect x="1220" y="513" width="1" height="38" fill="#ff0000"/>
<rect x="1219" y="521" width="3" height="26" fill="#ff0000"/>
<rect x="1224" y="508" width="1" height="31" fill="#ff0000"/>
<rect x="1223" y="521" width="3" height="2" fill="#ff0000"/>
<rect x="1228" y="517" width="1" height="7" fill="#00ff00"/>
<rect x="1227" y="520" width="3" height="2" fill="#00ff00"/>
<rect x="1232" y="478" width="1" height="48" fill="#ff0000"/>
<rect x="1231" y="491" width="3" height="34" fill="#ff0000"/>
<rect x="1236" y="473" width="1" height="32" fill="#ff0000"/>
<rect x="1235" y="490" width="3" height="2" fill="#ff0000"/>
<rect x="1240" y="460" width="1" height="35" fill="#ff0000"/>
<rect x="1239" y="468" width="3" height="22" fill="#ff0000"/>
<rect x="1244" y="462" width="1" height="15" fill="#00ff00"/>
<rect x="1243" y="468" width="3" height="7" fill="#00ff00"/>
<rect x="1248" y="474" width="1" height="41" fill="#00ff00"/>
<rect x="1247" y="475" width="3" height="22" fill="#00ff00"/>
<rect x="1252" y="495" width="1" height="9" fill="#00ff00"/>
<rect x="1251" y="497" width="3" height="3" fill="#00ff00"/>
<rect x="1256" y="491" width="1" height="17" fill="#00ff00"/>
<rect x="1255" y="498" width="3" height="3" fill="#00ff00"/>
<rect x="1260" y="497" width="1" height="19" fill="#00ff00"/>
<rect x="1259" y="500" width="3" height="9" fill="#00ff00"/>
<rect x="1264" y="427" width="1" height="120" fill="#00ff00"/>
<rect x="1263" y="508" width="3" height="36" fill="#00ff00"/>
<rect x="1268" y="539" width="1" height="31" fill="#00ff00"/>
<rect x="1267" y="544" width="3" height="14" fill="#00ff00"/>
<rect x="4" y="739" width="1" height="19" fill="#c0c0c0"/>
<rect x="8" y="739" width="1" height="22" fill="#c0c0c0"/>
<rect x="12" y="739" width="1" height="25" fill="#c0c0c0"/>
<rect x="16" y="739" width="1" height="28" fill="#c0c0c0"/>
<rect x="20" y="739" width="1" height="31" fill="#c0c0c0"/>
<rect x="24" y="739" width="1" height="32" fill="#c0c0c0"/>
<rect x="28" y="739" width="1" height="33" fill="#c0c0c0"/>
<rect x="32" y="739" width="1" height="32" fill="#c0c0c0"/>
<rect x="36" y="739" width="1" height="29" fill="#c0c0c0"/>
<rect x="40" y="739" width="1" height="27" fill="#c0c0c0"/>
<rect x="44" y="739" width="1" height="25" fill="#c0c0c0"/>
<rect x="48" y="739" width="1" height="24" fill="#c0c0c0"/>
<rect x="52" y="739" width="1" height="24" fill="#c0c0c0"/>
<rect x="56" y="739" width="1" height="21" fill="#c0c0c0"/>
<rect x="60" y="739" width="1" height="19" fill="#c0c0c0"/>
<rect x="64" y="739" width="1" height="16" fill="#c0c0c0"/>
<rect x="68" y="739" width="1" height="13" fill="#c0c0c0"/>
<rect x="72" y="739" width="1" height="10" fill="#c0c0c0"/>
<rect x="76" y="739" width="1" height="8" fill="#c0c0c0"/>
<rect x="80" y="739" width="1" height="7" fill="#c0c0c0"/>
<rect x="84" y="739" width="1" height="7" fill="#c0c0c0"/>
<rect x="88" y="739" width="1" height="8" fill="#c0c0c0"/>
<rect x="92" y="739" width="1" height="7" fill="#c0c0c0"/>
<rect x="96" y="739" width="1" height="7" fill="#c0c0c0"/>
<rect x="100" y="739" width="1" height="6" fill="#c0c0c0"/>
<rect x="104" y="739" width="1" height="4" fill="#c0c0c0"/>
<rect x="108" y="739" width="1" height="2" fill="#c0c0c0"/>
<rect x="112" y="738" width="1" height="2" fill="#c0c0c0"/>
<rect x="116" y="738" width="1" height="2" fill="#c0c0c0"/>
<rect x="120" y="738" width="1" height="2" fill="#c0c0c0"/>
<rect x="124" y="739" width="1" height="1" fill="#c0c0c0"/>
<rect x="128" y="739" width="1" height="1" fill="#c0c0c0"/>
<rect x="132" y="739" width="1" height="1" fill="#c0c0c0"/>
<rect x="136" y="739" width="1" height="1" fill="#c0c0c0"/>
<rect x="140" y="739" width="1" height="5" fill="#c0c0c0"/>
<rect x="144" y="739" width="1" height="8" fill="#c0c0c0"/>
<rect x="148" y="739" width="1" height="10" fill="#c0c0c0"/>
<rect x="152" y="739" width="1" height="11" fill="#c0c0c0"/>
<rect x="156" y="739" width="1" height="13" fill="#c0c0c0"/>
<rect x="160" y="739" width="1" height="14" fill="#c0c0c0"/>
<rect x="164" y="739" width="1" height="13" fill="#c0c0c0"/>
<rect x="168" y="739" width="1" height="13" fill="#c0c0c0"/>
<rect x="172" y="739" width="1" height="13" fill="#c0c0c0"/>
<rect x="176" y="739" width="1" height="13" fill="#c0c0c0"/>
<rect x="180" y="739" width="1" height="13" fill="#c0c0c0"/>
<rect x="184" y="739" width="1" height="12" fill="#c0c0c0"/>
<rect x="188" y="739" width="1" height="12" fill="#c0c0c0"/>
<rect x="192" y="739" width="1" height="12" fill="#c0c0c0"/>
<rect x="196" y="739" width="1" height="13" fill="#c0c0c0"/>
<rect x="200" y="739" width="1" height="14" fill="#c0c0c0"/>
<rect x="204" y="739" width="1" height="15" fill="#c0c0c0"/>
<rect x="208" y="739" width="1" height="17" fill="#c0c0c0"/>
<rect x="212" y="739" width="1" height="18" fill="#c0c0c0"/>
<rect x="216" y="739" width="1" height="19" fill="#c0c0c0"/>
<rect x="220" y="739" width="1" height="20" fill="#c0c0c0"/>
<rect x="224" y="739" width="1" height="20" fill="#c0c0c0"/>
<rect x="228" y="739" width="1" height="21" fill="#c0c0c0"/>
<rect x="232" y="739" width="1" height="22" fill="#c0c0c0"/>
<rect x="236" y="739" width="1" height="23" fill="#c0c0c0"/>
<rect x="240" y="739" width="1" height="25" fill="#c0c0c0"/>
<rect x="244" y="739" width="1" height="28" fill="#c0c0c0"/>
<rect x="248" y="739" width="1" height="31" fill="#c0c0c0"/>
<rect x="252" y="739" width="1" height="34" fill="#c0c0c0"/>
<rect x="256" y="739" width="1" height="36" fill="#c0c0c0"/>
<rect x="260" y="739" width="1" height="38" fill="#c0c0c0"/>
<rect x="264" y="739" width="1" height="40" fill="#c0c0c0"/>
<rect x="268" y="739" width="1" height="41" fill="#c0c0c0"/>
<rect x="272" y="739" width="1" height="42" fill="#c0c0c0"/>
<rect x="276" y="739" width="1" height="40" fill="#c0c0c0"/>
<rect x="280" y="739" width="1" height="36" fill="#c0c0c0"/>
<rect x="284" y="739" width="1" height="32" fill="#c0c0c0"/>
<rect x="288" y="739" width="1" height="27" fill="#c0c0c0"/>
<rect x="292" y="739" width="1" height="22" fill="#c0c0c0"/>
<rect x="296" y="739" width="1" height="17" fill="#c0c0c0"/>
<rect x="300" y="739" width="1" height="10" fill="#c0c0c0"/>
<rect x="304" y="739" width="1" height="5" fill="#c0c0c0"/>
<rect x="308" y="739" width="1" height="1" fill="#c0c0c0"/>
<rect x="312" y="735" width="1" height="5" fill="#c0c0c0"/>
<rect x="316" y="730" width="1" height="10" fill="#c0c0c0"/>
<rect x="320" y="727" width="1" height="13" fill="#c0c0c0"/>
<rect x="324" y="723" width="1" height="17" fill="#c0c0c0"/>
<rect x="328" y="724" width="1" height="16" fill="#c0c0c0"/>
<rect x="332" y="725" width="1" height="15" fill="#c0c0c0"/>
<rect x="336" y="724" width="1" height="16" fill="#c0c0c0"/>
<rect x="340" y="722" width="1" height="18" fill="#c0c0c0"/>
<rect x="344" y="724" width="1" height="16" fill="#c0c0c0"/>
<rect x="348" y="725" width="1" height="15" fill="#c0c0c0"/>
<rect x="352" y="727" width="1" height="13" fill="#c0c0c0"/>
<rect x="356" y="728" width="1" height="12" fill="#c0c0c0"/>
<rect x="360" y="728" width="1" height="12" fill="#c0c0c0"/>
<rect x="364" y="728" width="1" height="12" fill="#c0c0c0"/>
<rect x="368" y="729" width="1" height="11" fill="#c0c0c0"/>
<rect x="372" y="728" width="1" height="12" fill="#c0c0c0"/>
<rect x="376" y="727" width="1" height="13" fill="#c0c0c0"/>
<rect x="380" y="724" width="1" height="16" fill="#c0c0c0"/>
<rect x="384" y="722" width="1" height="18" fill="#c0c0c0"/>
<rect x="388" y="720" width="1" height="20" fill="#c0c0c0"/>
<rect x="392" y="719" width="1" height="21" fill="#c0c0c0"/>
<rect x="396" y="719" width="1" height="21" fill="#c0c0c0"/>
<rect x="400" y="719" width="1" height="21" fill="#c0c0c0"/>
<rect x="404" y="721" width="1" height="19" fill="#c0c0c0"/>
<rect x="408" y="725" width="1" height="15" fill="#c0c0c0"/>
<rect x="412" y="729" width="1" height="11" fill="#c0c0c0"/>
<rect x="416" y="733" width="1" height="7" fill="#c0c0c0"/>
<rect x="420" y="738" width="1" height="2" fill="#c0c0c0"/>
<rect x="424" y="739" width="1" height="6" fill="#c0c0c0"/>
<rect x="428" y="739" width="1" height="11" fill="#c0c0c0"/>
<rect x="432" y="739" width="1" height="14" fill="#c0c0c0"/>
<rect x="436" y="739" width="1" height="16" fill="#c0c0c0"/>
<rect x="440" y="739" width="1" height="17" fill="#c0c0c0"/>
<rect x="444" y="739" width="1" height="16" fill="#c0c0c0"/>
<rect x="448" y="739" width="1" height="14" fill="#c0c0c0"/>
<rect x="452" y="739" width="1" height="9" fill="#c0c0c0"/>
<rect x="456" y="739" width="1" height="3" fill="#c0c0c0"/>
<rect x="460" y="737" width="1" height="3" fill="#c0c0c0"/>
<rect x="464" y="735" width="1" height="5" fill="#c0c0c0"/>
<rect x="468" y="733" width="1" height="7" fill="#c0c0c0"/>
<rect x="472" y="727" width="1" height="13" fill="#c0c0c0"/>
<rect x="476" y="717" width="1" height="23" fill="#c0c0c0"/>
<rect x="480" y="708" width="1" height="32" fill="#c0c0c0"/>
<rect x="484" y="701" width="1" height="39" fill="#c0c0c0"/>
<rect x="488" y="697" width="1" height="43" fill="#c0c0c0"/>
<rect x="492" y="697" width="1" height="43" fill="#c0c0c0"/>
<rect x="496" y="696" width="1" height="44" fill="#c0c0c0"/>
<rect x="500" y="697" width="1" height="43" fill="#c0c0c0"/>
<rect x="504" y="699" width="1" height="41" fill="#c0c0c0"/>
<rect x="508" y="701" width="1" height="39" fill="#c0c0c0"/>
<rect x="512" y="702" width="1" height="38" fill="#c0c0c0"/>
<rect x="516" y="703" width="1" height="37" fill="#c0c0c0"/>
<rect x="520" y="705" width="1" height="35" fill="#c0c0c0"/>
<rect x="524" y="707" width="1" height="33" fill="#c0c0c0"/>
<rect x="528" y="709" width="1" height="31" fill="#c0c0c0"/>
<rect x="532" y="710" width="1" height="30" fill="#c0c0c0"/>
<rect x="536" y="711" width="1" height="29" fill="#c0c0c0"/>
<rect x="540" y="715" width="1" height="25" fill="#c0c0c0"/>
<rect x="544" y="720" width="1" height="20" fill="#c0c0c0"/>
<rect x="548" y="724" width="1" height="16" fill="#c0c0c0"/>
<rect x="552" y="729" width="1" height="11" fill="#c0c0c0"/>
<rect x="556" y="733" width="1" height="7" fill="#c0c0c0"/>
<rect x="560" y="736" width="1" height="4" fill="#c0c0c0"/>
<rect x="564" y="738" width="1" height="2" fill="#c0c0c0"/>
<rect x="568" y="739" width="1" height="1" fill="#c0c0c0"/>
<rect x="572" y="738" width="1" height="2" fill="#c0c0c0"/>
<rect x="576" y="737" width="1" height="3" fill="#c0c0c0"/>
<rect x="580" y="736" width="1" height="4" fill="#c0c0c0"/>
<rect x="584" y="735" width="1" height="5" fill="#c0c0c0"/>
<rect x="588" y="734" width="1" height="6" fill="#c0c0c0"/>
<rect x="592" y="734" width="1" height="6" fill="#c0c0c0"/>
<rect x="596" y="732" width="1" height="8" fill="#c0c0c0"/>
<rect x="600" y="732" width="1" height="8" fill="#c0c0c0"/>
<rect x="604" y="732" width="1" height="8" fill="#c0c0c0"/>
<rect x="608" y="731" width="1" height="9" fill="#c0c0c0"/>
<rect x="612" y="732" width="1" height="8" fill="#c0c0c0"/>
<rect x="616" y="733" width="1" height="7" fill="#c0c0c0"/>
<rect x="620" y="734" width="1" height="6" fill="#c0c0c0"/>
<rect x="624" y="735" width="1" height="5" fill="#c0c0c0"/>
<rect x="628" y="731" width="1" height="9" fill="#c0c0c0"/>
<rect x="632" y="727" width="1" height="13" fill="#c0c0c0"/>
<rect x="636" y="725" width="1" height="15" fill="#c0c0c0"/>
<rect x="640" y="725" width="1" height="15" fill="#c0c0c0"/>
<rect x="644" y="725" width="1" height="15" fill="#c0c0c0"/>
<rect x="648" y="727" width="1" height="13" fill="#c0c0c0"/>
<rect x="652" y="731" width="1" height="9" fill="#c0c0c0"/>
<rect x="656" y="731" width="1" height="9" fill="#c0c0c0"/>
<rect x="660" y="733" width="1" height="7" fill="#c0c0c0"/>
<rect x="664" y="732" width="1" height="8" fill="#c0c0c0"/>
<rect x="668" y="731" width="1" height="9" fill="#c0c0c0"/>
<rect x="672" y="730" width="1" height="10" fill="#c0c0c0"/>
<rect x="676" y="729" width="1" height="11" fill="#c0c0c0"/>
<rect x="680" y="729" width="1" height="11" fill="#c0c0c0"/>
<rect x="684" y="730" width="1" height="10" fill="#c0c0c0"/>
<rect x="688" y="732" width="1" height="8" fill="#c0c0c0"/>
<rect x="692" y="732" width="1" height="8" fill="#c0c0c0"/>
<rect x="696" y="730" width="1" height="10" fill="#c0c0c0"/>
<rect x="700" y="728" width="1" height="12" fill="#c0c0c0"/>
<rect x="704" y="727" width="1" height="13" fill="#c0c0c0"/>
<rect x="708" y="726" width="1" height="14" fill="#c0c0c0"/>
<rect x="712" y="721" width="1" height="19" fill="#c0c0c0"/>
<rect x="716" y="720" width="1" height="20" fill="#c0c0c0"/>
<rect x="720" y="720" width="1" height="20" fill="#c0c0c0"/>
<rect x="724" y="720" width="1" height="20" fill="#c0c0c0"/>
<rect x="728" y="722" width="1" height="18" fill="#c0c0c0"/>
<rect x="732" y="726" width="1" height="14" fill="#c0c0c0"/>
<rect x="736" y="730" width="1" height="10" fill="#c0c0c0"/>
<rect x="740" y="733" width="1" height="7" fill="#c0c0c0"/>
<rect x="744" y="738" width="1" height="2" fill="#c0c0c0"/>
<rect x="748" y="739" width="1" height="4" fill="#c0c0c0"/>
<rect x="752" y="739" width="1" height="9" fill="#c0c0c0"/>
<rect x="756" y="739" width="1" height="12" fill="#c0c0c0"/>
<rect x="760" y="739" width="1" height="16" fill="#c0c0c0"/>
<rect x="764" y="739" width="1" height="17" fill="#c0c0c0"/>
<rect x="768" y="739" width="1" height="18" fill="#c0c0c0"/>
<rect x="772" y="739" width="1" height="17" fill="#c0c0c0"/>
<rect x="776" y="739" width="1" height="17" fill="#c0c0c0"/>
<rect x="780" y="739" width="1" height="16" fill="#c0c0c0"/>
<rect x="784" y="739" width="1" height="15" fill="#c0c0c0"/>
<rect x="788" y="739" width="1" height="15" fill="#c0c0c0"/>
<rect x="792" y="739" width="1" height="15" fill="#c0c0c0"/>
<rect x="796" y="739" width="1" height="15" fill="#c0c0c0"/>
<rect x="800" y="739" width="1" height="15" fill="#c0c0c0"/>
<rect x="804" y="739" width="1" height="15" fill="#c0c0c0"/>
<rect x="808" y="739" width="1" height="15" fill="#c0c0c0"/>
<rect x="812" y="739" width="1" height="14" fill="#c0c0c0"/>
<rect x="816" y="739" width="1" height="12" fill="#c0c0c0"/>
<rect x="820" y="739" width="1" height="11" fill="#c0c0c0"/>
<rect x="824" y="739" width="1" height="10" fill="#c0c0c0"/>
<rect x="828" y="739" width="1" height="9" fill="#c0c0c0"/>
<rect x="832" y="739" width="1" height="10" fill="#c0c0c0"/>
<rect x="836" y="739" width="1" height="11" fill="#c0c0c0"/>
<rect x="840" y="739" width="1" height="11" fill="#c0c0c0"/>
<rect x="844" y="739" width="1" height="11" fill="#c0c0c0"/>
<rect x="848" y="739" width="1" height="13" fill="#c0c0c0"/>
<rect x="852" y="739" width="1" height="17" fill="#c0c0c0"/>
<rect x="856" y="739" width="1" height="21" fill="#c0c0c0"/>
<rect x="860" y="739" width="1" height="24" fill="#c0c0c0"/>
<rect x="864" y="739" width="1" height="26" fill="#c0c0c0"/>
<rect x="868" y="739" width="1" height="27" fill="#c0c0c0"/>
<rect x="872" y="739" width="1" height="28" fill="#c0c0c0"/>
<rect x="876" y="739" width="1" height="29" fill="#c0c0c0"/>
<rect x="880" y="739" width="1" height="29" fill="#c0c0c0"/>
<rect x="884" y="739" width="1" height="30" fill="#c0c0c0"/>
<rect x="888" y="739" width="1" height="30" fill="#c0c0c0"/>
<rect x="892" y="739" width="1" height="30" fill="#c0c0c0"/>
<rect x="896" y="739" width="1" height="30" fill="#c0c0c0"/>
<rect x="900" y="739" width="1" height="30" fill="#c0c0c0"/>
<rect x="904" y="739" width="1" height="29" fill="#c0c0c0"/>
<rect x="908" y="739" width="1" height="27" fill="#c0c0c0"/>
<rect x="912" y="739" width="1" height="23" fill="#c0c0c0"/>
<rect x="916" y="739" width="1" height="20" fill="#c0c0c0"/>
<rect x="920" y="739" width="1" height="18" fill="#c0c0c0"/>
<rect x="924" y="739" width="1" height="17" fill="#c0c0c0"/>
<rect x="928" y="739" width="1" height="16" fill="#c0c0c0"/>
<rect x="932" y="739" width="1" height="15" fill="#c0c0c0"/>
<rect x="936" y="739" width="1" height="14" fill="#c0c0c0"/>
<rect x="940" y="739" width="1" height="16" fill="#c0c0c0"/>
<rect x="944" y="739" width="1" height="17" fill="#c0c0c0"/>
<rect x="948" y="739" width="1" height="18" fill="#c0c0c0"/>
<rect x="952" y="739" width="1" height="20" fill="#c0c0c0"/>
<rect x="956" y="739" width="1" height="22" fill="#c0c0c0"/>
<rect x="960" y="739" width="1" height="23" fill="#c0c0c0"/>
<rect x="964" y="739" width="1" height="22" fill="#c0c0c0"/>
<rect x="968" y="739" width="1" height="21" fill="#c0c0c0"/>
<rect x="972" y="739" width="1" height="23" fill="#c0c0c0"/>
<rect x="976" y="739" width="1" height="24" fill="#c0c0c0"/>
<rect x="980" y="739" width="1" height="25" fill="#c0c0c0"/>
<rect x="984" y="739" width="1" height="25" fill="#c0c0c0"/>
<rect x="988" y="739" width="1" height="25" fill="#c0c0c0"/>
<rect x="992" y="739" width="1" height="26" fill="#c0c0c0"/>
<rect x="996" y="739" width="1" height="27" fill="#c0c0c0"/>
<rect x="1000" y="739" width="1" height="28" fill="#c0c0c0"/>
<rect x="1004" y="739" width="1" height="29" fill="#c0c0c0"/>
<rect x="1008" y="739" width="1" height="28" fill="#c0c0c0"/>
<rect x="1012" y="739" width="1" height="28" fill="#c0c0c0"/>
<rect x="1016" y="739" width="1" height="28" fill="#c0c0c0"/>
<rect x="1020" y="739" width="1" height="28" fill="#c0c0c0"/>
<rect x="1024" y="739" width="1" height="29" fill="#c0c0c0"/>
<rect x="1028" y="739" width="1" height="30" fill="#c0c0c0"/>
<rect x="1032" y="739" width="1" height="33" fill="#c0c0c0"/>
<rect x="1036" y="739" width="1" height="35" fill="#c0c0c0"/>
<rect x="1040" y="739" width="1" height="37" fill="#c0c0c0"/>
<rect x="1044" y="739" width="1" height="40" fill="#c0c0c0"/>
<rect x="1048" y="739" width="1" height="41" fill="#c0c0c0"/>
<rect x="1052" y="739" width="1" height="42" fill="#c0c0c0"/>
<rect x="1056" y="739" width="1" height="41" fill="#c0c0c0"/>
<rect x="1060" y="739" width="1" height="40" fill="#c0c0c0"/>
<rect x="1064" y="739" width="1" height="40" fill="#c0c0c0"/>
<rect x="1068" y="739" width="1" height="38" fill="#c0c0c0"/>
<rect x="1072" y="739" width="1" height="38" fill="#c0c0c0"/>
<rect x="1076" y="739" width="1" height="37" fill="#c0c0c0"/>
<rect x="1080" y="739" width="1" height="36" fill="#c0c0c0"/>
<rect x="1084" y="739" width="1" height="36" fill="#c0c0c0"/>
<rect x="1088" y="739" width="1" height="38" fill="#c0c0c0"/>
<rect x="1092" y="739" width="1" height="39" fill="#c0c0c0"/>
<rect x="1096" y="739" width="1" height="42" fill="#c0c0c0"/>
<rect x="1100" y="739" width="1" height="44" fill="#c0c0c0"/>
<rect x="1104" y="739" width="1" height="45" fill="#c0c0c0"/>
<rect x="1108" y="739" width="1" height="45" fill="#c0c0c0"/>
<rect x="1112" y="739" width="1" height="43" fill="#c0c0c0"/>
<rect x="1116" y="739" width="1" height="41" fill="#c0c0c0"/>
<rect x="1120" y="739" width="1" height="37" fill="#c0c0c0"/>
<rect x="1124" y="739" width="1" height="32" fill="#c0c0c0"/>
<rect x="1128" y="739" width="1" height="27" fill="#c0c0c0"/>
<rect x="1132" y="739" width="1" height="22" fill="#c0c0c0"/>
<rect x="1136" y="739" width="1" height="20" fill="#c0c0c0"/>
<rect x="1140" y="739" width="1" height="19" fill="#c0c0c0"/>
<rect x="1144" y="739" width="1" height="19" fill="#c0c0c0"/>
<rect x="1148" y="739" width="1" height="22" fill="#c0c0c0"/>
<rect x="1152" y="739" width="1" height="26" fill="#c0c0c0"/>
<rect x="1156" y="739" width="1" height="28" fill="#c0c0c0"/>
<rect x="1160" y="739" width="1" height="31" fill="#c0c0c0"/>
<rect x="1164" y="739" width="1" height="33" fill="#c0c0c0"/>
<rect x="1168" y="739" width="1" height="35" fill="#c0c0c0"/>
<rect x="1172" y="739" width="1" height="35" fill="#c0c0c0"/>
<rect x="1176" y="739" width="1" height="37" fill="#c0c0c0"/>
<rect x="1180" y="739" width="1" height="41" fill="#c0c0c0"/>
<rect x="1184" y="739" width="1" height="40" fill="#c0c0c0"/>
<rect x="1188" y="739" width="1" height="37" fill="#c0c0c0"/>
<rect x="1192" y="739" width="1" height="37" fill="#c0c0c0"/>
<rect x="1196" y="739" width="1" height="37" fill="#c0c0c0"/>
<rect x="1200" y="739" width="1" height="38" fill="#c0c0c0"/>
<rect x="1204" y="739" width="1" height="39" fill="#c0c0c0"/>
<rect x="1208" y="739" width="1" height="40" fill="#c0c0c0"/>
<rect x="1212" y="739" width="1" height="41" fill="#c0c0c0"/>
<rect x="1216" y="739" width="1" height="43" fill="#c0c0c0"/>
<rect x="1220" y="739" width="1" height="44" fill="#c0c0c0"/>
<rect x="1224" y="739" width="1" height="43" fill="#c0c0c0"/>
<rect x="1228" y="739" width="1" height="42" fill="#c0c0c0"/>
<rect x="1232" y="739" width="1" height="39" fill="#c0c0c0"/>
<rect x="1236" y="739" width="1" height="36" fill="#c0c0c0"/>
<rect x="1240" y="739" width="1" height="30" fill="#c0c0c0"/>
<rect x="1244" y="739" width="1" height="25" fill="#c0c0c0"/>
<rect x="1248" y="739" width="1" height="22" fill="#c0c0c0"/>
<rect x="1252" y="739" width="1" height="21" fill="#c0c0c0"/>
<rect x="1256" y="739" width="1" height="21" fill="#c0c0c0"/>
<rect x="1260" y="739" width="1" height="20" fill="#c0c0c0"/>
<rect x="1264" y="739" width="1" height="21" fill="#c0c0c0"/>
<rect x="1268" y="739" width="1" height="26" fill="#c0c0c0"/>
<polyline points="4.5,185.4 8.5,189.3 12.5,197.7 16.5,207.0 20.5,220.4 24.5,229.0 28.5,235.6 32.5,234.2 36.5,231.6 40.5,222.5 44.5,216.5 48.5,214.1 52.5,214.8 56.5,212.4 60.5,211.7 64.5,210.0 68.5,204.6 72.5,197.4 76.5,194.4 80.5,194.2 84.5,197.4 88.5,200.0 92.5,202.7 96.5,205.2 100.5,205.0 104.5,200.5 108.5,190.3 112.5,187.5 116.5,185.1 120.5,185.3 124.5,188.8 128.5,195.7 132.5,198.5 136.5,200.0 140.5,209.4 144.5,211.3 148.5,217.4 152.5,224.7 156.5,232.1 160.5,228.4 164.5,230.9 168.5,231.9 172.5,229.9 176.5,227.1 180.5,225.8 184.5,225.0 188.5,226.5 192.5,228.0 196.5,231.1 200.5,236.2 204.5,243.3 208.5,249.1 212.5,255.0 216.5,259.8 220.5,262.2 224.5,261.1 228.5,263.4 232.5,265.9 236.5,272.4 240.5,281.5 244.5,292.1 248.5,302.2 252.5,313.0 256.5,319.5 260.5,326.2 264.5,334.3 268.5,338.0 272.5,340.7 276.5,337.6 280.5,331.1 284.5,318.1 288.5,306.3 292.5,294.8 296.5,280.7 300.5,270.2 304.5,265.4 308.5,253.1 312.5,241.2 316.5,239.3 320.5,231.3 324.5,227.1 328.5,232.2 332.5,236.7 336.5,235.9 340.5,237.2 344.5,237.6 348.5,238.1 352.5,238.7 356.5,242.2 360.5,244.7 364.5,243.7 368.5,241.2 372.5,235.3 376.5,230.8 380.5,222.5 384.5,214.8 388.5,205.5 392.5,201.8 396.5,199.3 400.5,201.5 404.5,206.9 408.5,215.0 412.5,222.9 416.5,233.6 420.5,249.9 424.5,265.5 428.5,274.5 432.5,283.1 436.5,287.9 440.5,286.2 444.5,278.9 448.5,275.3 452.5,256.5 456.5,239.9 460.5,225.4 464.5,218.9 468.5,206.2 472.5,199.4 476.5,178.0 480.5,159.9 484.5,135.6 488.5,118.6 492.5,118.0 496.5,120.1 500.5,128.2 504.5,133.5 508.5,140.6 512.5,133.6 516.5,142.7 520.5,138.1 524.5,140.9 528.5,135.8 532.5,138.1 536.5,134.8 540.5,144.8 544.5,147.5 548.5,159.2 552.5,170.1 556.5,180.7 560.5,180.7 564.5,185.3 568.5,181.4 572.5,174.7 576.5,168.6 580.5,164.7 584.5,158.2 588.5,152.6 592.5,150.2 596.5,149.2 600.5,145.9 604.5,144.0 608.5,145.7 612.5,148.5 616.5,149.1 620.5,153.5 624.5,146.0 628.5,138.3 632.5,129.6 636.5,123.3 640.5,113.3 644.5,120.0 648.5,129.4 652.5,135.6 656.5,136.9 660.5,142.2 664.5,140.1 668.5,134.0 672.5,127.5 676.5,123.6 680.5,119.4 684.5,119.0 688.5,122.0 692.5,123.0 696.5,119.8 700.5,115.4 704.5,109.3 708.5,101.6 712.5,90.4 716.5,89.2 720.5,86.1 724.5,84.8 728.5,86.7 732.5,100.8 736.5,107.5 740.5,116.2 744.5,131.3 748.5,142.2 752.5,151.4 756.5,158.5 760.5,169.6 764.5,169.5 768.5,168.7 772.5,164.7 776.5,163.7 780.5,157.9 784.5,156.0 788.5,155.2 792.5,156.5 796.5,157.6 800.5,162.5 804.5,167.3 808.5,168.6 812.5,167.3 816.5,165.5 820.5,160.2 824.5,156.0 828.5,156.9 832.5,159.8 836.5,162.9 840.5,166.4 844.5,168.0 848.5,177.3 852.5,186.5 856.5,198.3 860.5,211.0 864.5,221.9 868.5,222.8 872.5,225.5 876.5,224.4 880.5,226.1 884.5,229.6 888.5,232.8 892.5,234.5 896.5,238.2 900.5,239.6 904.5,236.7 908.5,236.7 912.5,229.9 916.5,225.1 920.5,220.7 924.5,221.4 928.5,220.3 932.5,222.9 936.5,229.3 940.5,231.7 944.5,234.8 948.5,238.5 952.5,252.4 956.5,257.9 960.5,261.0 964.5,263.2 968.5,266.5 972.5,264.9 976.5,267.9 980.5,272.4 984.5,277.4 988.5,280.4 992.5,282.3 996.5,286.5 1000.5,292.6 1004.5,298.6 1008.5,302.6 1012.5,304.1 1016.5,303.9 1020.5,304.3 1024.5,308.6 1028.5,315.2 1032.5,326.1 1036.5,334.9 1040.5,345.6 1044.5,354.7 1048.5,363.4 1052.5,365.7 1056.5,368.8 1060.5,371.1 1064.5,370.9 1068.5,367.4 1072.5,370.1 1076.5,372.2 1080.5,372.1 1084.5,372.0 1088.5,380.5 1092.5,390.0 1096.5,404.1 1100.5,417.2 1104.5,428.5 1108.5,433.2 1112.5,428.8 1116.5,423.5 1120.5,413.5 1124.5,402.0 1128.5,392.0 1132.5,387.5 1136.5,382.1 1140.5,380.9 1144.5,389.4 1148.5,405.6 1152.5,418.0 1156.5,428.8 1160.5,447.3 1164.5,456.4 1168.5,458.8 1172.5,462.4 1176.5,474.6 1180.5,480.5 1184.5,478.9 1188.5,477.0 1192.5,482.4 1196.5,476.5 1200.5,475.4 1204.5,484.2 1208.5,495.8 1212.5,504.2 1216.5,518.1 1220.5,522.3 1224.5,526.9 1228.5,528.1 1232.5,520.9 1236.5,509.3 1240.5,498.8 1244.5,489.7 1248.5,484.8 1252.5,486.4 1256.5,488.6 1260.5,496.8 1264.5,510.7 1268.5,522.9" fill="none" stroke="#ffa500" stroke-width="1" />
<polyline points="4.5,174.9 8.5,178.7 12.5,183.8 16.5,188.8 20.5,194.9 24.5,199.6 28.5,204.1 32.5,207.0 36.5,209.5 40.5,210.7 44.5,212.1 48.5,215.1 52.5,217.9 56.5,219.4 60.5,220.1 64.5,219.5 68.5,217.5 72.5,214.4 76.5,210.1 80.5,207.7 84.5,205.8 88.5,205.3 92.5,204.1 96.5,203.9 100.5,203.6 104.5,201.0 108.5,196.5 112.5,195.2 116.5,194.4 120.5,194.8 124.5,195.4 128.5,196.0 132.5,196.7 136.5,196.5 140.5,199.1 144.5,199.4 148.5,201.2 152.5,203.7 156.5,206.2 160.5,209.0 164.5,213.9 168.5,217.0 172.5,219.7 176.5,221.1 180.5,222.3 184.5,224.4 188.5,227.0 192.5,229.7 196.5,228.9 200.5,231.1 204.5,233.6 208.5,235.7 212.5,237.9 216.5,240.1 220.5,242.3 224.5,244.1 228.5,247.7 232.5,251.7 236.5,256.7 240.5,262.5 244.5,267.5 248.5,274.2 252.5,280.9 256.5,286.5 260.5,292.1 264.5,297.9 268.5,303.9 272.5,309.8 276.5,313.4 280.5,317.1 284.5,317.5 288.5,318.3 292.5,317.8 296.5,313.1 300.5,309.3 304.5,304.3 308.5,296.9 312.5,289.8 316.5,282.1 320.5,272.5 324.5,264.7 328.5,258.2 332.5,253.8 336.5,248.1 340.5,243.6 344.5,240.1 348.5,237.9 352.5,238.8 356.5,238.1 360.5,236.2 364.5,236.8 368.5,237.9 372.5,237.3 376.5,237.9 380.5,234.6 384.5,230.5 388.5,226.8 392.5,225.1 396.5,224.4 400.5,221.7 404.5,219.4 408.5,218.3 412.5,218.3 416.5,220.4 420.5,223.9 424.5,228.0 428.5,232.4 432.5,236.9 436.5,243.8 440.5,249.4 444.5,254.3 448.5,258.6 452.5,257.4 456.5,257.5 460.5,256.1 464.5,255.7 468.5,252.6 472.5,245.1 476.5,231.8 480.5,218.3 484.5,206.1 488.5,193.9 492.5,184.4 496.5,172.5 500.5,164.5 504.5,155.4 508.5,152.5 512.5,146.5 516.5,143.0 520.5,135.6 524.5,132.1 528.5,129.8 532.5,132.2 536.5,134.0 540.5,138.9 544.5,142.4 548.5,144.5 552.5,150.1 556.5,152.8 560.5,155.8 564.5,158.4 568.5,161.5 572.5,161.5 576.5,163.7 580.5,164.3 584.5,166.4 588.5,166.7 592.5,167.0 596.5,165.2 600.5,163.7 604.5,161.0 608.5,158.0 612.5,155.5 616.5,154.0 620.5,152.4 624.5,148.3 628.5,145.0 632.5,141.6 636.5,139.2 640.5,136.3 644.5,136.7 648.5,137.6 652.5,136.8 656.5,135.9 660.5,135.7 664.5,134.7 668.5,132.4 672.5,129.0 676.5,125.3 680.5,126.2 684.5,127.8 688.5,129.7 692.5,128.9 696.5,127.6 700.5,124.6 704.5,120.6 708.5,117.5 712.5,112.3 716.5,108.6 720.5,105.3 724.5,103.0 728.5,102.9 732.5,104.2 736.5,104.4 740.5,104.3 744.5,106.4 748.5,109.8 752.5,115.5 756.5,119.8 760.5,125.8 764.5,130.6 768.5,137.8 772.5,142.4 776.5,147.5 780.5,151.9 784.5,155.4 788.5,157.2 792.5,160.0 796.5,162.3 800.5,163.1 804.5,164.3 808.5,163.3 812.5,163.1 816.5,160.8 820.5,159.7 824.5,159.7 828.5,160.6 832.5,161.7 836.5,162.6 840.5,163.5 844.5,164.3 848.5,168.0 852.5,172.0 856.5,175.4 860.5,179.1 864.5,183.4 868.5,187.8 872.5,193.5 876.5,198.3 880.5,204.1 884.5,209.3 888.5,213.9 892.5,219.1 896.5,223.9 900.5,229.7 904.5,230.5 908.5,231.8 912.5,230.4 916.5,229.0 920.5,229.3 924.5,230.0 928.5,230.0 932.5,229.8 936.5,230.1 940.5,230.1 944.5,230.7 948.5,231.4 952.5,234.9 956.5,236.6 960.5,238.7 964.5,240.2 968.5,244.4 972.5,249.1 976.5,253.5 980.5,256.9 984.5,260.6 988.5,265.0 992.5,268.0 996.5,273.1 1000.5,277.6 1004.5,282.1 1008.5,282.9 1012.5,284.6 1016.5,288.4 1020.5,292.2 1024.5,297.1 1028.5,300.8 1032.5,305.3 1036.5,310.8 1040.5,316.6 1044.5,323.6 1048.5,329.8 1052.5,333.6 1056.5,337.9 1060.5,342.5 1064.5,348.0 1068.5,352.4 1072.5,357.3 1076.5,362.2 1080.5,365.2 1084.5,368.3 1088.5,371.9 1092.5,377.0 1096.5,383.1 1100.5,387.5 1104.5,391.5 1108.5,396.0 1112.5,398.4 1116.5,401.8 1120.5,402.7 1124.5,403.9 1128.5,403.8 1132.5,403.9 1136.5,405.3 1140.5,405.9 1144.5,407.1 1148.5,409.3 1152.5,408.9 1156.5,409.5 1160.5,412.6 1164.5,415.3 1168.5,420.0 1172.5,422.8 1176.5,431.3 1180.5,440.6 1184.5,446.4 1188.5,452.0 1192.5,458.6 1196.5,465.4 1200.5,471.3 1204.5,474.4 1208.5,479.8 1212.5,485.5 1216.5,490.7 1220.5,494.9 1224.5,498.7 1228.5,503.2 1232.5,502.1 1236.5,501.0 1240.5,502.0 1244.5,503.3 1248.5,504.1 1252.5,505.6 1256.5,505.7 1260.5,506.5 1264.5,508.6 1268.5,510.8" fill="none" stroke="#ff0000" stroke-width="1" />
<polyline points="4.5,149.1 8.5,152.4 12.5,156.3 16.5,160.3 20.5,164.8 24.5,168.7 28.5,172.6 32.5,175.9 36.5,178.9 40.5,181.5 44.5,183.9 48.5,187.0 52.5,189.9 56.5,192.1 60.5,194.1 64.5,195.8 68.5,197.5 72.5,198.7 76.5,199.8 80.5,201.2 84.5,202.7 88.5,204.2 92.5,205.1 96.5,205.9 100.5,206.4 104.5,206.5 108.5,205.7 112.5,205.7 116.5,205.9 120.5,206.5 124.5,207.0 128.5,206.7 132.5,205.8 136.5,204.8 140.5,204.7 144.5,204.1 148.5,203.7 152.5,204.3 156.5,204.9 160.5,205.7 164.5,206.5 168.5,206.6 172.5,206.8 176.5,207.3 180.5,208.0 184.5,209.0 188.5,210.3 192.5,211.9 196.5,213.4 200.5,215.0 204.5,216.6 208.5,218.5 212.5,220.6 216.5,222.5 220.5,224.6 224.5,226.7 228.5,230.7 232.5,233.7 236.5,237.1 240.5,240.6 244.5,244.0 248.5,248.4 252.5,252.8 256.5,257.0 260.5,260.1 264.5,264.5 268.5,268.5 272.5,272.1 276.5,274.6 280.5,277.2 284.5,279.0 288.5,280.9 292.5,282.9 296.5,283.5 300.5,284.6 304.5,285.7 308.5,285.4 312.5,285.1 316.5,284.9 320.5,283.8 324.5,283.0 328.5,282.5 332.5,282.0 336.5,280.9 340.5,279.6 344.5,279.1 348.5,278.3 352.5,277.5 356.5,275.9 360.5,273.4 364.5,271.0 368.5,268.2 372.5,264.6 376.5,261.1 380.5,256.2 384.5,251.1 388.5,246.1 392.5,241.4 396.5,238.0 400.5,234.5 404.5,232.6 408.5,230.9 412.5,229.4 416.5,230.2 420.5,231.2 424.5,232.6 428.5,234.4 432.5,236.4 436.5,238.3 440.5,240.3 444.5,241.2 448.5,241.6 452.5,239.7 456.5,239.0 460.5,238.4 464.5,238.1 468.5,236.3 472.5,233.2 476.5,228.3 480.5,224.2 484.5,220.1 488.5,215.8 492.5,213.6 496.5,209.8 500.5,208.5 504.5,206.5 508.5,205.0 512.5,202.3 516.5,200.4 520.5,197.9 524.5,195.6 528.5,191.8 532.5,188.1 536.5,183.9 540.5,180.4 544.5,175.9 548.5,172.6 552.5,169.3 556.5,166.0 560.5,162.8 564.5,160.3 568.5,157.0 572.5,155.7 576.5,154.1 580.5,152.7 584.5,150.2 588.5,148.0 592.5,147.5 596.5,149.3 600.5,150.4 604.5,151.6 608.5,152.5 612.5,152.5 616.5,154.2 620.5,154.6 624.5,153.7 628.5,152.2 632.5,151.9 636.5,150.9 640.5,150.5 644.5,150.2 648.5,151.1 652.5,151.5 656.5,151.3 660.5,150.1 664.5,148.9 668.5,146.9 672.5,144.4 676.5,141.8 680.5,139.9 684.5,137.9 688.5,137.0 692.5,135.7 696.5,133.7 700.5,131.6 704.5,129.7 708.5,128.5 712.5,125.8 716.5,123.7 720.5,121.7 724.5,119.9 728.5,118.7 732.5,117.8 736.5,116.7 740.5,115.4 744.5,117.4 748.5,119.3 752.5,121.5 756.5,122.6 760.5,124.8 764.5,125.6 768.5,125.9 772.5,126.3 776.5,127.1 780.5,127.4 784.5,128.3 788.5,129.4 792.5,131.1 796.5,132.7 800.5,134.6 804.5,136.3 808.5,137.2 812.5,138.5 816.5,140.3 820.5,142.1 824.5,144.1 828.5,146.4 832.5,150.1 836.5,152.6 840.5,155.5 844.5,158.0 848.5,161.5 852.5,164.4 856.5,167.7 860.5,171.3 864.5,173.1 868.5,174.9 872.5,176.7 876.5,178.7 880.5,180.7 884.5,183.1 888.5,185.6 892.5,188.4 896.5,191.1 900.5,194.3 904.5,196.6 908.5,199.2 912.5,200.6 916.5,202.4 920.5,204.0 924.5,205.6 928.5,207.8 932.5,209.9 936.5,213.0 940.5,215.9 944.5,218.7 948.5,221.4 952.5,225.3 956.5,228.9 960.5,231.7 964.5,234.6 968.5,236.3 972.5,238.4 976.5,240.5 980.5,241.9 984.5,243.8 988.5,245.9 992.5,247.8 996.5,250.8 1000.5,253.0 1004.5,255.4 1008.5,257.5 1012.5,259.4 1016.5,261.8 1020.5,263.8 1024.5,267.3 1028.5,270.6 1032.5,275.5 1036.5,280.1 1040.5,284.6 1044.5,289.6 1048.5,294.4 1052.5,299.3 1056.5,303.3 1060.5,307.8 1064.5,312.2 1068.5,315.9 1072.5,318.9 1076.5,322.4 1080.5,326.4 1084.5,330.4 1088.5,334.9 1092.5,339.7 1096.5,345.1 1100.5,350.5 1104.5,355.5 1108.5,360.4 1112.5,364.2 1116.5,367.9 1120.5,370.6 1124.5,372.8 1128.5,375.3 1132.5,378.1 1136.5,380.9 1140.5,383.4 1144.5,386.2 1148.5,390.4 1152.5,393.4 1156.5,396.6 1160.5,400.3 1164.5,403.2 1168.5,406.3 1172.5,409.5 1176.5,414.2 1180.5,418.6 1184.5,421.2 1188.5,424.5 1192.5,428.2 1196.5,431.6 1200.5,435.8 1204.5,439.9 1208.5,443.7 1212.5,447.2 1216.5,450.6 1220.5,453.3 1224.5,456.3 1228.5,459.5 1232.5,462.6 1236.5,464.9 1240.5,467.5 1244.5,470.9 1248.5,475.0 1252.5,479.1 1256.5,482.6 1260.5,486.8 1264.5,491.1 1268.5,494.6" fill="none" stroke="#0000d0" stroke-width="1" />
<polyline points="4.5,649.6 12.6,658.6 16.2,659.5 21.0,663.7 25.1,654.6 28.7,655.4 33.1,647.0 36.8,647.0 40.8,640.9 45.2,640.9 48.8,648.0 52.5,648.0 57.3,638.9 60.9,637.5 65.0,634.9 69.0,636.9 73.4,631.5 77.1,632.9 85.1,641.9 89.1,641.9 93.2,636.9 97.2,637.9 101.2,636.5 105.3,630.8 109.3,621.8 113.3,631.9 117.3,634.5 125.0,640.9 129.4,636.5 133.1,638.5 137.1,636.5 140.9,652.0 145.1,640.9 149.2,642.5 153.6,646.0 157.2,646.0 161.3,641.9 165.7,641.9 169.3,642.9 173.3,642.9 177.4,638.9 181.8,639.9 189.5,644.9 193.9,643.5 197.5,644.9 205.6,652.6 210.0,654.0 213.6,653.4 217.7,651.6 221.1,650.6 225.1,647.0 229.1,655.0 233.2,654.6 236.2,659.1 240.6,661.5 244.7,662.7 248.7,666.7 252.7,668.1 256.7,662.7 261.4,665.1 265.4,667.1 269.4,666.7 272.9,664.1 276.5,644.9 280.9,641.9 284.9,633.9 289.0,635.9 293.0,635.5 296.6,622.2 300.7,625.4 304.7,627.8 308.7,620.8 314.8,620.8 316.8,621.8 320.8,618.8 324.8,626.8 327.9,631.9 328.6,632.9 332.6,631.9 336.6,625.4 340.6,624.8 348.7,635.9 352.7,634.5 356.8,632.5 360.8,629.8 364.8,629.8 368.8,633.9 372.9,629.2 376.9,627.8 380.9,619.8 385.0,621.8 389.0,621.8 393.0,624.8 397.1,627.8 400.7,625.8 405.1,634.5 409.1,638.9 412.8,640.5 417.2,646.0 425.3,654.6 429.3,648.0 433.3,648.6 437.3,648.6 441.4,642.9 445.4,638.9 449.0,639.9 453.1,622.2 457.1,625.8 460.5,624.8 465.1,633.9 476.6,613.1 481.3,616.7 485.7,616.7 489.3,618.8 493.3,627.8 497.0,622.2 501.0,629.8 505.0,627.8 509.1,630.8 513.1,626.8 517.1,632.9 521.1,628.8 525.2,632.9 529.2,628.8 533.2,629.8 536.5,630.4 540.5,638.9 544.5,636.9 548.5,638.9 552.6,639.9 556.6,639.9 560.6,637.9 564.7,639.9 568.7,634.9 572.7,632.9 576.7,633.9 584.8,633.9 588.8,629.2 591.5,629.2 596.9,633.9 600.9,631.9 609.0,631.9 613.0,634.9 617.0,636.5 621.1,638.9 624.3,624.4 627.7,622.8 631.7,623.8 637.2,628.8 640.8,626.8 645.2,635.9 648.9,638.5 653.0,635.9 657.0,632.9 661.0,635.9 665.1,632.9 669.1,630.8 673.1,626.4 677.2,627.8 681.2,630.8 685.2,634.9 689.3,636.9 693.3,629.8 697.3,624.8 701.3,625.8 709.0,625.8 713.0,616.7 717.1,627.8 721.1,626.8 725.1,629.2 729.1,634.9 732.8,640.9 736.8,638.9 740.8,639.9 744.9,648.6 749.3,649.0 753.3,651.0 756.9,646.0 761.0,651.0 765.0,646.0 769.0,642.9 773.1,641.5 777.1,640.9 781.5,640.9 785.1,641.9 789.2,640.9 793.2,643.9 797.2,642.9 801.3,649.0 805.3,648.6 809.3,640.9 813.3,637.9 817.4,636.9 821.4,636.9 825.4,639.5 829.5,642.5 833.5,643.9 837.5,642.9 841.5,643.9 845.2,642.9 848.4,657.4 852.4,659.1 856.5,660.7 860.5,662.1 864.5,656.0 868.5,654.0 872.6,657.0 876.6,651.0 880.6,657.4 884.7,656.0 888.7,654.0 896.7,654.0 901.4,657.0 904.8,643.9 908.4,644.9 912.9,634.9 916.9,637.3 920.9,642.5 924.9,642.9 929.0,643.9 933.0,639.3 937.0,648.0 941.1,644.9 945.1,646.6 949.1,648.0 953.2,658.0 960.8,643.9 964.8,643.9 969.9,648.0 973.0,650.6 977.0,653.0 981.0,648.0 985.1,649.0 989.1,649.0 993.1,651.0 996.8,655.4 1000.8,654.6 1004.8,656.0 1008.8,650.0 1012.5,648.6 1016.5,652.6 1020.5,652.0 1024.6,658.0 1029.0,659.5 1033.0,662.1 1037.1,663.1 1041.1,665.1 1045.1,667.1 1049.1,665.5 1052.8,658.0 1056.8,658.6 1060.8,660.7 1064.9,660.7 1068.9,651.0 1072.9,654.6 1076.9,655.4 1081.0,653.4 1085.0,654.0 1089.0,659.5 1093.1,664.7 1097.1,668.1 1101.1,662.7 1105.1,659.5 1109.2,656.6 1113.2,646.0 1117.2,651.0 1121.3,639.9 1125.3,635.9 1130.7,635.9 1133.7,637.3 1137.4,640.9 1141.0,637.9 1145.0,646.0 1149.1,654.0 1153.1,650.0 1157.1,651.0 1160.7,656.0 1165.2,652.0 1168.8,652.0 1172.8,649.0 1176.9,657.0 1180.9,657.0 1184.9,641.9 1188.9,642.9 1193.0,648.0 1197.0,646.0 1201.0,650.0 1205.1,648.6 1209.1,651.4 1213.1,654.0 1217.1,657.0 1220.8,649.0 1228.4,649.0 1232.9,639.9 1236.9,639.9 1240.9,634.9 1244.5,635.9 1249.0,641.9 1256.6,641.9 1260.7,644.9 1264.7,651.4 1268.1,653.0" fill="none" stroke="#1e90ff" stroke-width="1" />
<polyline points="4.5,757.0 12.6,759.0 20.6,761.4 28.7,764.7 36.8,767.1 44.8,768.1 52.9,767.5 60.9,765.1 69.0,760.6 77.1,756.0 85.1,752.6 93.2,748.9 101.2,746.5 109.3,744.5 117.3,742.1 125.4,740.5 133.5,739.9 141.5,740.1 149.6,741.9 157.6,745.3 165.7,748.5 173.7,751.0 181.8,752.0 189.9,751.6 197.9,751.4 206.0,752.0 214.0,753.4 222.1,755.0 230.2,757.0 238.2,759.0 246.3,762.0 254.3,765.5 262.4,769.1 270.4,773.1 276.5,775.7 282.5,776.1 290.6,774.1 298.6,767.1 306.7,760.0 314.8,750.0 322.8,739.9 330.5,732.8 336.6,727.8 344.7,724.4 352.7,724.2 360.8,724.8 368.8,725.8 376.9,726.8 385.0,725.8 393.0,724.2 401.1,723.2 409.1,722.2 415.2,722.4 421.2,725.8 429.3,731.8 437.3,739.9 445.4,747.9 453.5,751.4 461.5,747.9 469.6,744.5 477.6,736.9 485.7,724.8 493.7,713.7 501.8,705.6 509.9,700.6 515.9,699.0 522.0,699.6 530.0,702.2 538.1,706.2 546.1,711.1 554.2,716.7 562.2,722.8 570.3,729.2 578.4,734.4 586.4,735.9 594.5,735.3 602.5,734.2 610.6,733.2 618.6,732.8 626.7,731.8 634.8,729.8 642.8,728.8 650.5,727.8 656.6,728.2 666.7,728.2 672.7,729.8 680.8,730.2 688.8,731.2 696.9,730.2 705.0,728.4 713.0,727.8 721.1,725.8 727.1,723.4 733.2,723.2 739.2,724.2 745.3,726.2 751.3,729.8 757.3,735.9 763.4,741.3 769.4,746.5 775.5,750.6 781.5,754.0 787.6,755.0 797.6,755.0 805.7,754.6 813.7,754.0 821.8,753.0 829.9,752.0 837.9,751.0 846.0,750.0 852.0,751.0 858.1,752.4 864.1,755.4 870.2,758.4 876.2,761.4 882.2,764.5 888.3,767.1 894.3,768.1 900.4,768.7 906.4,768.5 912.5,766.7 918.5,765.5 924.5,763.1 930.6,761.0 936.6,758.0 942.7,756.6 946.7,756.0 954.8,756.2 962.8,757.0 970.5,758.0 974.6,760.6 984.7,762.0 992.7,763.1 1000.8,764.1 1008.8,765.9 1016.9,766.5 1027.0,767.1 1035.0,768.7 1043.1,770.1 1049.1,773.1 1055.2,775.7 1063.2,777.2 1069.3,778.8 1079.4,778.8 1087.4,777.2 1095.5,777.2 1103.5,778.2 1111.6,779.2 1121.7,779.8 1127.7,778.2 1133.7,774.5 1139.8,770.1 1145.8,766.1 1151.9,763.1 1158.9,762.0 1164.0,763.5 1170.0,765.1 1176.1,768.7 1182.1,772.1 1188.1,774.7 1194.2,775.7 1202.2,776.7 1210.3,777.6 1218.4,778.2 1226.4,779.2 1236.5,779.6 1242.5,777.2 1248.6,774.1 1254.6,770.1 1260.7,766.5 1267.1,763.1" fill="none" stroke="#ff0000" stroke-width="1" stroke-dasharray="3 3"/>
<rect x="4" y="47" width="1593" height="2" fill="#ff0000"/>
<rect x="1598" y="42" width="40" height="11" fill="#ff0000"/>
<rect x="4" y="137" width="1593" height="2" fill="#ff0000"/>
<rect x="1598" y="132" width="40" height="11" fill="#ff0000"/>
<rect x="4" y="225" width="1593" height="2" fill="#ff0000"/>
<rect x="1598" y="220" width="40" height="11" fill="#ff0000"/>
<rect x="3" y="223" width="6" height="6" fill="#ff0000"/>
<rect x="5" y="225" width="2" height="2" fill="#fff"/>
<rect x="1590" y="223" width="6" height="6" fill="#ff0000"/>
<rect x="1592" y="225" width="2" height="2" fill="#fff"/>
<rect x="4" y="330" width="1593" height="2" fill="#00ff00"/>
<rect x="1598" y="325" width="40" height="11" fill="#00ff00"/>
<rect x="3" y="328" width="6" height="6" fill="#00ff00"/>
<rect x="5" y="330" width="2" height="2" fill="#fff"/>
<rect x="1590" y="328" width="6" height="6" fill="#00ff00"/>
<rect x="1592" y="330" width="2" height="2" fill="#fff"/>
<rect x="4" y="437" width="1593" height="2" fill="#0000ff"/>
<rect x="1598" y="432" width="40" height="11" fill="#0000ff"/>
<rect x="4" y="557" width="1593" height="2" fill="#0000ff"/>
<rect x="1598" y="554" width="40" height="11" fill="#000"/>
<rect x="1598" y="552" width="40" height="11" fill="#0000ff"/>
<rect x="3" y="555" width="6" height="6" fill="#0000ff"/>
<rect x="5" y="557" width="2" height="2" fill="#fff"/>
<rect x="1590" y="555" width="6" height="6" fill="#0000ff"/>
<rect x="1592" y="557" width="2" height="2" fill="#fff"/>
<rect x="0" y="810" width="1638" height="1" fill="#e3e3e3"/>
<rect x="0" y="811" width="1638" height="1" fill="#ffffff"/>
<rect x="0" y="812" width="1638" height="1" fill="#000000"/>
<rect x="0" y="813" width="1638" height="1" fill="#fbfbfb"/>
<rect x="0" y="814" width="1638" height="18" fill="#f0f0f0"/>
<rect x="0" y="832" width="1638" height="1" fill="#ffffff"/>
<rect x="0" y="833" width="1638" height="1" fill="#ececec"/>
<rect x="0" y="813" width="1" height="18" fill="#5a5a5a"/>
<rect x="1" y="813" width="1" height="18" fill="#fbfbfb"/>
<rect x="109" y="815" width="1" height="14" fill="#5a5a5a"/>
<rect x="209" y="815" width="1" height="14" fill="#5a5a5a"/>
<rect x="313" y="815" width="1" height="14" fill="#5a5a5a"/>
<rect x="625" y="815" width="1" height="14" fill="#5a5a5a"/>
<rect x="717" y="815" width="1" height="14" fill="#5a5a5a"/>
<rect x="810" y="815" width="1" height="14" fill="#5a5a5a"/>
<rect x="881" y="815" width="1" height="14" fill="#5a5a5a"/>
<rect x="961" y="815" width="1" height="14" fill="#5a5a5a"/>
<rect x="1041" y="815" width="1" height="14" fill="#5a5a5a"/>
<rect x="1121" y="815" width="1" height="14" fill="#5a5a5a"/>
<rect x="1197" y="815" width="1" height="14" fill="#5a5a5a"/>
<rect x="1270" y="815" width="1" height="14" fill="#5a5a5a"/>
<rect x="1353" y="815" width="1" height="14" fill="#5a5a5a"/>
<rect x="1433" y="815" width="1" height="14" fill="#5a5a5a"/>
<rect x="1533" y="815" width="1" height="14" fill="#5a5a5a"/>
<rect x="1606" y="815" width="1" height="14" fill="#5a5a5a"/>
<rect x="417" y="812" width="104" height="19" fill="#000"/>
<rect x="418" y="811" width="102" height="19" fill="#fff"/>
<rect x="521" y="813" width="1" height="18" fill="#dcdcdc"/>
<path d="M1616 817 L1612 820.5 L1616 824 Z" fill="#a0a0a0"/>
<path d="M1630 817 L1634 820.5 L1630 824 Z" fill="#000"/>
</g>
<defs><filter id="gs" x="0" y="0" width="100%" height="100%" color-interpolation-filters="sRGB"><feColorMatrix type="saturate" values="0"/></filter></defs><g filter="url(#gs)">
<text x="43.40" y="14" font-size="9.8" fill="#2a2a2a" stroke="#2a2a2a" stroke-width="0.15" textLength="13.00" lengthAdjust="spacingAndGlyphs" xml:space="preserve">M1</text>
<text x="71.50" y="14" font-size="9.8" fill="#2a2a2a" stroke="#2a2a2a" stroke-width="0.15" textLength="13.00" lengthAdjust="spacingAndGlyphs" xml:space="preserve">M5</text>
<text x="97.40" y="14" font-size="9.8" fill="#2a2a2a" stroke="#2a2a2a" stroke-width="0.15" textLength="17.90" lengthAdjust="spacingAndGlyphs" xml:space="preserve">M15</text>
<text x="125.50" y="14" font-size="9.8" fill="#2a2a2a" stroke="#2a2a2a" stroke-width="0.15" textLength="17.90" lengthAdjust="spacingAndGlyphs" xml:space="preserve">M30</text>
<text x="156.20" y="14" font-size="9.8" fill="#2a2a2a" stroke="#2a2a2a" stroke-width="0.15" textLength="11.80" lengthAdjust="spacingAndGlyphs" xml:space="preserve">H1</text>
<text x="183.30" y="14" font-size="9.8" fill="#2a2a2a" stroke="#2a2a2a" stroke-width="0.15" textLength="12.70" lengthAdjust="spacingAndGlyphs" xml:space="preserve">H4</text>
<text x="212.10" y="14" font-size="9.8" fill="#2a2a2a" stroke="#2a2a2a" stroke-width="0.15" textLength="12.10" lengthAdjust="spacingAndGlyphs" xml:space="preserve">D1</text>
<text x="239.90" y="14" font-size="9.8" fill="#2a2a2a" stroke="#2a2a2a" stroke-width="0.15" textLength="14.20" lengthAdjust="spacingAndGlyphs" xml:space="preserve">W1</text>
<text x="266.40" y="14" font-size="9.8" fill="#2a2a2a" stroke="#2a2a2a" stroke-width="0.15" textLength="15.10" lengthAdjust="spacingAndGlyphs" xml:space="preserve">MN</text>
</g>
<text x="19.40" y="38" font-size="9.8" fill="#000" stroke="#000" stroke-width="0.2" textLength="65.60" lengthAdjust="spacingAndGlyphs" xml:space="preserve">USDCNH,Daily</text>
<text x="90.60" y="38" font-size="9.8" fill="#000" stroke="#000" stroke-width="0.2" textLength="141.50" lengthAdjust="spacingAndGlyphs" xml:space="preserve">6.64273 6.64789 6.61429 6.62513</text>
<text x="8.20" y="597" font-size="9.8" fill="#000" stroke="#000" stroke-width="0.2" textLength="67.70" lengthAdjust="spacingAndGlyphs" xml:space="preserve">RSI(14) 32.2080</text>
<text x="7.70" y="701" font-size="9.8" fill="#000" stroke="#000" stroke-width="0.2" textLength="154.50" lengthAdjust="spacingAndGlyphs" xml:space="preserve">MACD(12,26,9) -0.022403 -0.019368</text>
<g>
<text x="1602.00" y="55" font-size="9.8" fill="#000" stroke="#000" stroke-width="0.2" textLength="33.00" lengthAdjust="spacingAndGlyphs" xml:space="preserve">7.19810</text>
<text x="1602.00" y="88" font-size="9.8" fill="#000" stroke="#000" stroke-width="0.2" textLength="33.00" lengthAdjust="spacingAndGlyphs" xml:space="preserve">7.16070</text>
<text x="1602.00" y="121" font-size="9.8" fill="#000" stroke="#000" stroke-width="0.2" textLength="33.00" lengthAdjust="spacingAndGlyphs" xml:space="preserve">7.12330</text>
<text x="1602.00" y="154" font-size="9.8" fill="#000" stroke="#000" stroke-width="0.2" textLength="33.00" lengthAdjust="spacingAndGlyphs" xml:space="preserve">7.08590</text>
<text x="1602.00" y="187" font-size="9.8" fill="#000" stroke="#000" stroke-width="0.2" textLength="33.00" lengthAdjust="spacingAndGlyphs" xml:space="preserve">7.04960</text>
<text x="1602.00" y="220" font-size="9.8" fill="#000" stroke="#000" stroke-width="0.2" textLength="33.00" lengthAdjust="spacingAndGlyphs" xml:space="preserve">7.01220</text>
<text x="1602.00" y="253" font-size="9.8" fill="#000" stroke="#000" stroke-width="0.2" textLength="33.00" lengthAdjust="spacingAndGlyphs" xml:space="preserve">6.97480</text>
<text x="1602.00" y="286" font-size="9.8" fill="#000" stroke="#000" stroke-width="0.2" textLength="33.00" lengthAdjust="spacingAndGlyphs" xml:space="preserve">6.93740</text>
<text x="1602.00" y="319" font-size="9.8" fill="#000" stroke="#000" stroke-width="0.2" textLength="33.00" lengthAdjust="spacingAndGlyphs" xml:space="preserve">6.90000</text>
<text x="1602.00" y="352" font-size="9.8" fill="#000" stroke="#000" stroke-width="0.2" textLength="33.00" lengthAdjust="spacingAndGlyphs" xml:space="preserve">6.86260</text>
<text x="1602.00" y="385" font-size="9.8" fill="#000" stroke="#000" stroke-width="0.2" textLength="33.00" lengthAdjust="spacingAndGlyphs" xml:space="preserve">6.82630</text>
<text x="1602.00" y="418" font-size="9.8" fill="#000" stroke="#000" stroke-width="0.2" textLength="33.00" lengthAdjust="spacingAndGlyphs" xml:space="preserve">6.78890</text>
<text x="1602.00" y="451" font-size="9.8" fill="#000" stroke="#000" stroke-width="0.2" textLength="33.00" lengthAdjust="spacingAndGlyphs" xml:space="preserve">6.75150</text>
<text x="1602.00" y="484" font-size="9.8" fill="#000" stroke="#000" stroke-width="0.2" textLength="33.00" lengthAdjust="spacingAndGlyphs" xml:space="preserve">6.71410</text>
<text x="1602.00" y="517" font-size="9.8" fill="#000" stroke="#000" stroke-width="0.2" textLength="33.00" lengthAdjust="spacingAndGlyphs" xml:space="preserve">6.67670</text>
<text x="1602.00" y="550" font-size="9.8" fill="#000" stroke="#000" stroke-width="0.2" textLength="33.00" lengthAdjust="spacingAndGlyphs" xml:space="preserve">6.63930</text>
<text x="1602.00" y="583" font-size="9.8" fill="#000" stroke="#000" stroke-width="0.2" textLength="33.00" lengthAdjust="spacingAndGlyphs" xml:space="preserve">6.60300</text>
</g>
<g shape-rendering="crispEdges">
<rect x="1598" y="42" width="40" height="11" fill="#ff0000"/>
<rect x="1598" y="132" width="40" height="11" fill="#ff0000"/>
<rect x="1598" y="220" width="40" height="11" fill="#ff0000"/>
<rect x="1598" y="325" width="40" height="11" fill="#00ff00"/>
<rect x="1598" y="432" width="40" height="11" fill="#0000ff"/>
<rect x="1598" y="554" width="40" height="11" fill="#000"/>
<rect x="1598" y="552" width="40" height="11" fill="#0000ff"/>
</g>
<text x="1602.00" y="51" font-size="9.8" fill="#fff" stroke="#fff" stroke-width="0.2" textLength="33.00" lengthAdjust="spacingAndGlyphs" xml:space="preserve">7.20193</text>
<text x="1602.00" y="141" font-size="9.8" fill="#fff" stroke="#fff" stroke-width="0.2" textLength="33.00" lengthAdjust="spacingAndGlyphs" xml:space="preserve">7.10011</text>
<text x="1602.00" y="229" font-size="9.8" fill="#fff" stroke="#fff" stroke-width="0.2" textLength="33.00" lengthAdjust="spacingAndGlyphs" xml:space="preserve">7.00029</text>
<text x="1602.00" y="334" font-size="9.8" fill="#fff" stroke="#fff" stroke-width="0.2" textLength="33.00" lengthAdjust="spacingAndGlyphs" xml:space="preserve">6.88250</text>
<text x="1602.00" y="441" font-size="9.8" fill="#fff" stroke="#fff" stroke-width="0.2" textLength="33.00" lengthAdjust="spacingAndGlyphs" xml:space="preserve">6.76171</text>
<text x="1602.00" y="561" font-size="9.8" fill="#fff" stroke="#fff" stroke-width="0.2" textLength="33.00" lengthAdjust="spacingAndGlyphs" xml:space="preserve">6.62643</text>
<text x="1600.30" y="595" font-size="9.8" fill="#000" stroke="#000" stroke-width="0.2" textLength="15.60" lengthAdjust="spacingAndGlyphs" xml:space="preserve">100</text>
<text x="1598.90" y="619" font-size="9.8" fill="#000" stroke="#000" stroke-width="0.2" textLength="10.80" lengthAdjust="spacingAndGlyphs" xml:space="preserve">70</text>
<text x="1598.90" y="659" font-size="9.8" fill="#000" stroke="#000" stroke-width="0.2" textLength="10.80" lengthAdjust="spacingAndGlyphs" xml:space="preserve">30</text>
<text x="1599.10" y="683" font-size="9.8" fill="#000" stroke="#000" stroke-width="0.2" textLength="5.50" lengthAdjust="spacingAndGlyphs" xml:space="preserve">0</text>
<text x="1599.80" y="699" font-size="9.8" fill="#000" stroke="#000" stroke-width="0.2" textLength="37.80" lengthAdjust="spacingAndGlyphs" xml:space="preserve">0.042275</text>
<text x="1599.80" y="743" font-size="9.8" fill="#000" stroke="#000" stroke-width="0.2" textLength="18.60" lengthAdjust="spacingAndGlyphs" xml:space="preserve">0.00</text>
<text x="1599.80" y="786" font-size="9.8" fill="#000" stroke="#000" stroke-width="0.2" textLength="36.60" lengthAdjust="spacingAndGlyphs" xml:space="preserve">-0.04148</text>
<text x="3.35" y="802" font-size="9.8" fill="#000" stroke="#000" stroke-width="0.2" textLength="48.80" lengthAdjust="spacingAndGlyphs" xml:space="preserve">2 Nov 2019</text>
<text x="66.60" y="802" font-size="9.8" fill="#000" stroke="#000" stroke-width="0.2" textLength="54.55" lengthAdjust="spacingAndGlyphs" xml:space="preserve">21 Nov 2019</text>
<text x="130.85" y="802" font-size="9.8" fill="#000" stroke="#000" stroke-width="0.2" textLength="52.05" lengthAdjust="spacingAndGlyphs" xml:space="preserve">10 Dec 2019</text>
<text x="194.60" y="802" font-size="9.8" fill="#000" stroke="#000" stroke-width="0.2" textLength="52.55" lengthAdjust="spacingAndGlyphs" xml:space="preserve">28 Dec 2019</text>
<text x="258.85" y="802" font-size="9.8" fill="#000" stroke="#000" stroke-width="0.2" textLength="49.80" lengthAdjust="spacingAndGlyphs" xml:space="preserve">16 Jan 2020</text>
<text x="322.10" y="802" font-size="9.8" fill="#000" stroke="#000" stroke-width="0.2" textLength="47.55" lengthAdjust="spacingAndGlyphs" xml:space="preserve">4 Feb 2020</text>
<text x="386.60" y="802" font-size="9.8" fill="#000" stroke="#000" stroke-width="0.2" textLength="52.30" lengthAdjust="spacingAndGlyphs" xml:space="preserve">22 Feb 2020</text>
<text x="450.85" y="802" font-size="9.8" fill="#000" stroke="#000" stroke-width="0.2" textLength="52.05" lengthAdjust="spacingAndGlyphs" xml:space="preserve">12 Mar 2020</text>
<text x="515.10" y="802" font-size="9.8" fill="#000" stroke="#000" stroke-width="0.2" textLength="52.05" lengthAdjust="spacingAndGlyphs" xml:space="preserve">31 Mar 2020</text>
<text x="579.10" y="802" font-size="9.8" fill="#000" stroke="#000" stroke-width="0.2" textLength="50.80" lengthAdjust="spacingAndGlyphs" xml:space="preserve">18 Apr 2020</text>
<text x="642.60" y="802" font-size="9.8" fill="#000" stroke="#000" stroke-width="0.2" textLength="50.30" lengthAdjust="spacingAndGlyphs" xml:space="preserve">7 May 2020</text>
<text x="706.60" y="802" font-size="9.8" fill="#000" stroke="#000" stroke-width="0.2" textLength="55.05" lengthAdjust="spacingAndGlyphs" xml:space="preserve">26 May 2020</text>
<text x="770.35" y="802" font-size="9.8" fill="#000" stroke="#000" stroke-width="0.2" textLength="51.55" lengthAdjust="spacingAndGlyphs" xml:space="preserve">13 Jun 2020</text>
<text x="834.60" y="802" font-size="9.8" fill="#000" stroke="#000" stroke-width="0.2" textLength="42.55" lengthAdjust="spacingAndGlyphs" xml:space="preserve">2 Jul 2020</text>
<text x="898.85" y="802" font-size="9.8" fill="#000" stroke="#000" stroke-width="0.2" textLength="47.05" lengthAdjust="spacingAndGlyphs" xml:space="preserve">21 Jul 2020</text>
<text x="962.60" y="802" font-size="9.8" fill="#000" stroke="#000" stroke-width="0.2" textLength="48.55" lengthAdjust="spacingAndGlyphs" xml:space="preserve">8 Aug 2020</text>
<text x="1026.60" y="802" font-size="9.8" fill="#000" stroke="#000" stroke-width="0.2" textLength="53.05" lengthAdjust="spacingAndGlyphs" xml:space="preserve">27 Aug 2020</text>
<text x="1090.85" y="802" font-size="9.8" fill="#000" stroke="#000" stroke-width="0.2" textLength="51.55" lengthAdjust="spacingAndGlyphs" xml:space="preserve">15 Sep 2020</text>
<text x="1154.60" y="802" font-size="9.8" fill="#000" stroke="#000" stroke-width="0.2" textLength="46.30" lengthAdjust="spacingAndGlyphs" xml:space="preserve">3 Oct 2020</text>
<text x="1218.90" y="802" font-size="9.8" fill="#000" stroke="#000" stroke-width="0.2" textLength="51.40" lengthAdjust="spacingAndGlyphs" xml:space="preserve">22 Oct 2020</text>
<text x="16.50" y="827" font-size="12.6" fill="#6a6a6a" stroke="#6a6a6a" stroke-width="0" textLength="81.00" lengthAdjust="spacingAndGlyphs" xml:space="preserve">EURUSD,Daily</text>
<text x="119.00" y="827" font-size="12.6" fill="#6a6a6a" stroke="#6a6a6a" stroke-width="0" textLength="79.50" lengthAdjust="spacingAndGlyphs" xml:space="preserve">USDCHF,Daily</text>
<text x="219.50" y="827" font-size="12.6" fill="#6a6a6a" stroke="#6a6a6a" stroke-width="0" textLength="82.25" lengthAdjust="spacingAndGlyphs" xml:space="preserve">AUDUSD,Daily</text>
<text x="323.25" y="827" font-size="12.6" fill="#6a6a6a" stroke="#6a6a6a" stroke-width="0" textLength="81.50" lengthAdjust="spacingAndGlyphs" xml:space="preserve">USDCAD,Daily</text>
<text x="427.00" y="827" font-size="12.6" fill="#000" stroke="#000" stroke-width="0.15" textLength="83.50" lengthAdjust="spacingAndGlyphs" xml:space="preserve">USDCNH,Daily</text>
<text x="532.75" y="827" font-size="12.6" fill="#6a6a6a" stroke="#6a6a6a" stroke-width="0" textLength="80.25" lengthAdjust="spacingAndGlyphs" xml:space="preserve">EURUSD,Daily</text>
<text x="636.50" y="827" font-size="12.6" fill="#6a6a6a" stroke="#6a6a6a" stroke-width="0" textLength="68.50" lengthAdjust="spacingAndGlyphs" xml:space="preserve">GBPUSD,H4</text>
<text x="727.00" y="827" font-size="12.6" fill="#6a6a6a" stroke="#6a6a6a" stroke-width="0" textLength="69.75" lengthAdjust="spacingAndGlyphs" xml:space="preserve">XAUUSD,H1</text>
<text x="820.00" y="827" font-size="12.6" fill="#6a6a6a" stroke="#6a6a6a" stroke-width="0" textLength="50.00" lengthAdjust="spacingAndGlyphs" xml:space="preserve">HK50,H1</text>
<text x="892.00" y="827" font-size="12.6" fill="#6a6a6a" stroke="#6a6a6a" stroke-width="0" textLength="56.75" lengthAdjust="spacingAndGlyphs" xml:space="preserve">UK100,H1</text>
<text x="972.00" y="827" font-size="12.6" fill="#6a6a6a" stroke="#6a6a6a" stroke-width="0" textLength="56.75" lengthAdjust="spacingAndGlyphs" xml:space="preserve">UK100,H1</text>
<text x="1052.00" y="827" font-size="12.6" fill="#6a6a6a" stroke="#6a6a6a" stroke-width="0" textLength="56.50" lengthAdjust="spacingAndGlyphs" xml:space="preserve">GER30,H1</text>
<text x="1130.75" y="827" font-size="12.6" fill="#6a6a6a" stroke="#6a6a6a" stroke-width="0" textLength="54.25" lengthAdjust="spacingAndGlyphs" xml:space="preserve">FRA40,H1</text>
<text x="1207.30" y="827" font-size="12.6" fill="#6a6a6a" stroke="#6a6a6a" stroke-width="0" textLength="50.80" lengthAdjust="spacingAndGlyphs" xml:space="preserve">USOil,H4</text>
<text x="1278.90" y="827" font-size="12.6" fill="#6a6a6a" stroke="#6a6a6a" stroke-width="0" textLength="62.90" lengthAdjust="spacingAndGlyphs" xml:space="preserve">USDJPY,H1</text>
<text x="1362.60" y="827" font-size="12.6" fill="#6a6a6a" stroke="#6a6a6a" stroke-width="0" textLength="59.80" lengthAdjust="spacingAndGlyphs" xml:space="preserve">DJ30,Daily</text>
<text x="1442.50" y="827" font-size="12.6" fill="#6a6a6a" stroke="#6a6a6a" stroke-width="0" textLength="79.50" lengthAdjust="spacingAndGlyphs" xml:space="preserve">CHINA300,H1</text>
<text x="1542.90" y="827" font-size="12.6" fill="#6a6a6a" stroke="#6a6a6a" stroke-width="0" textLength="51.00" lengthAdjust="spacingAndGlyphs" xml:space="preserve">USOil,H1</text>
</svg></body></html>
